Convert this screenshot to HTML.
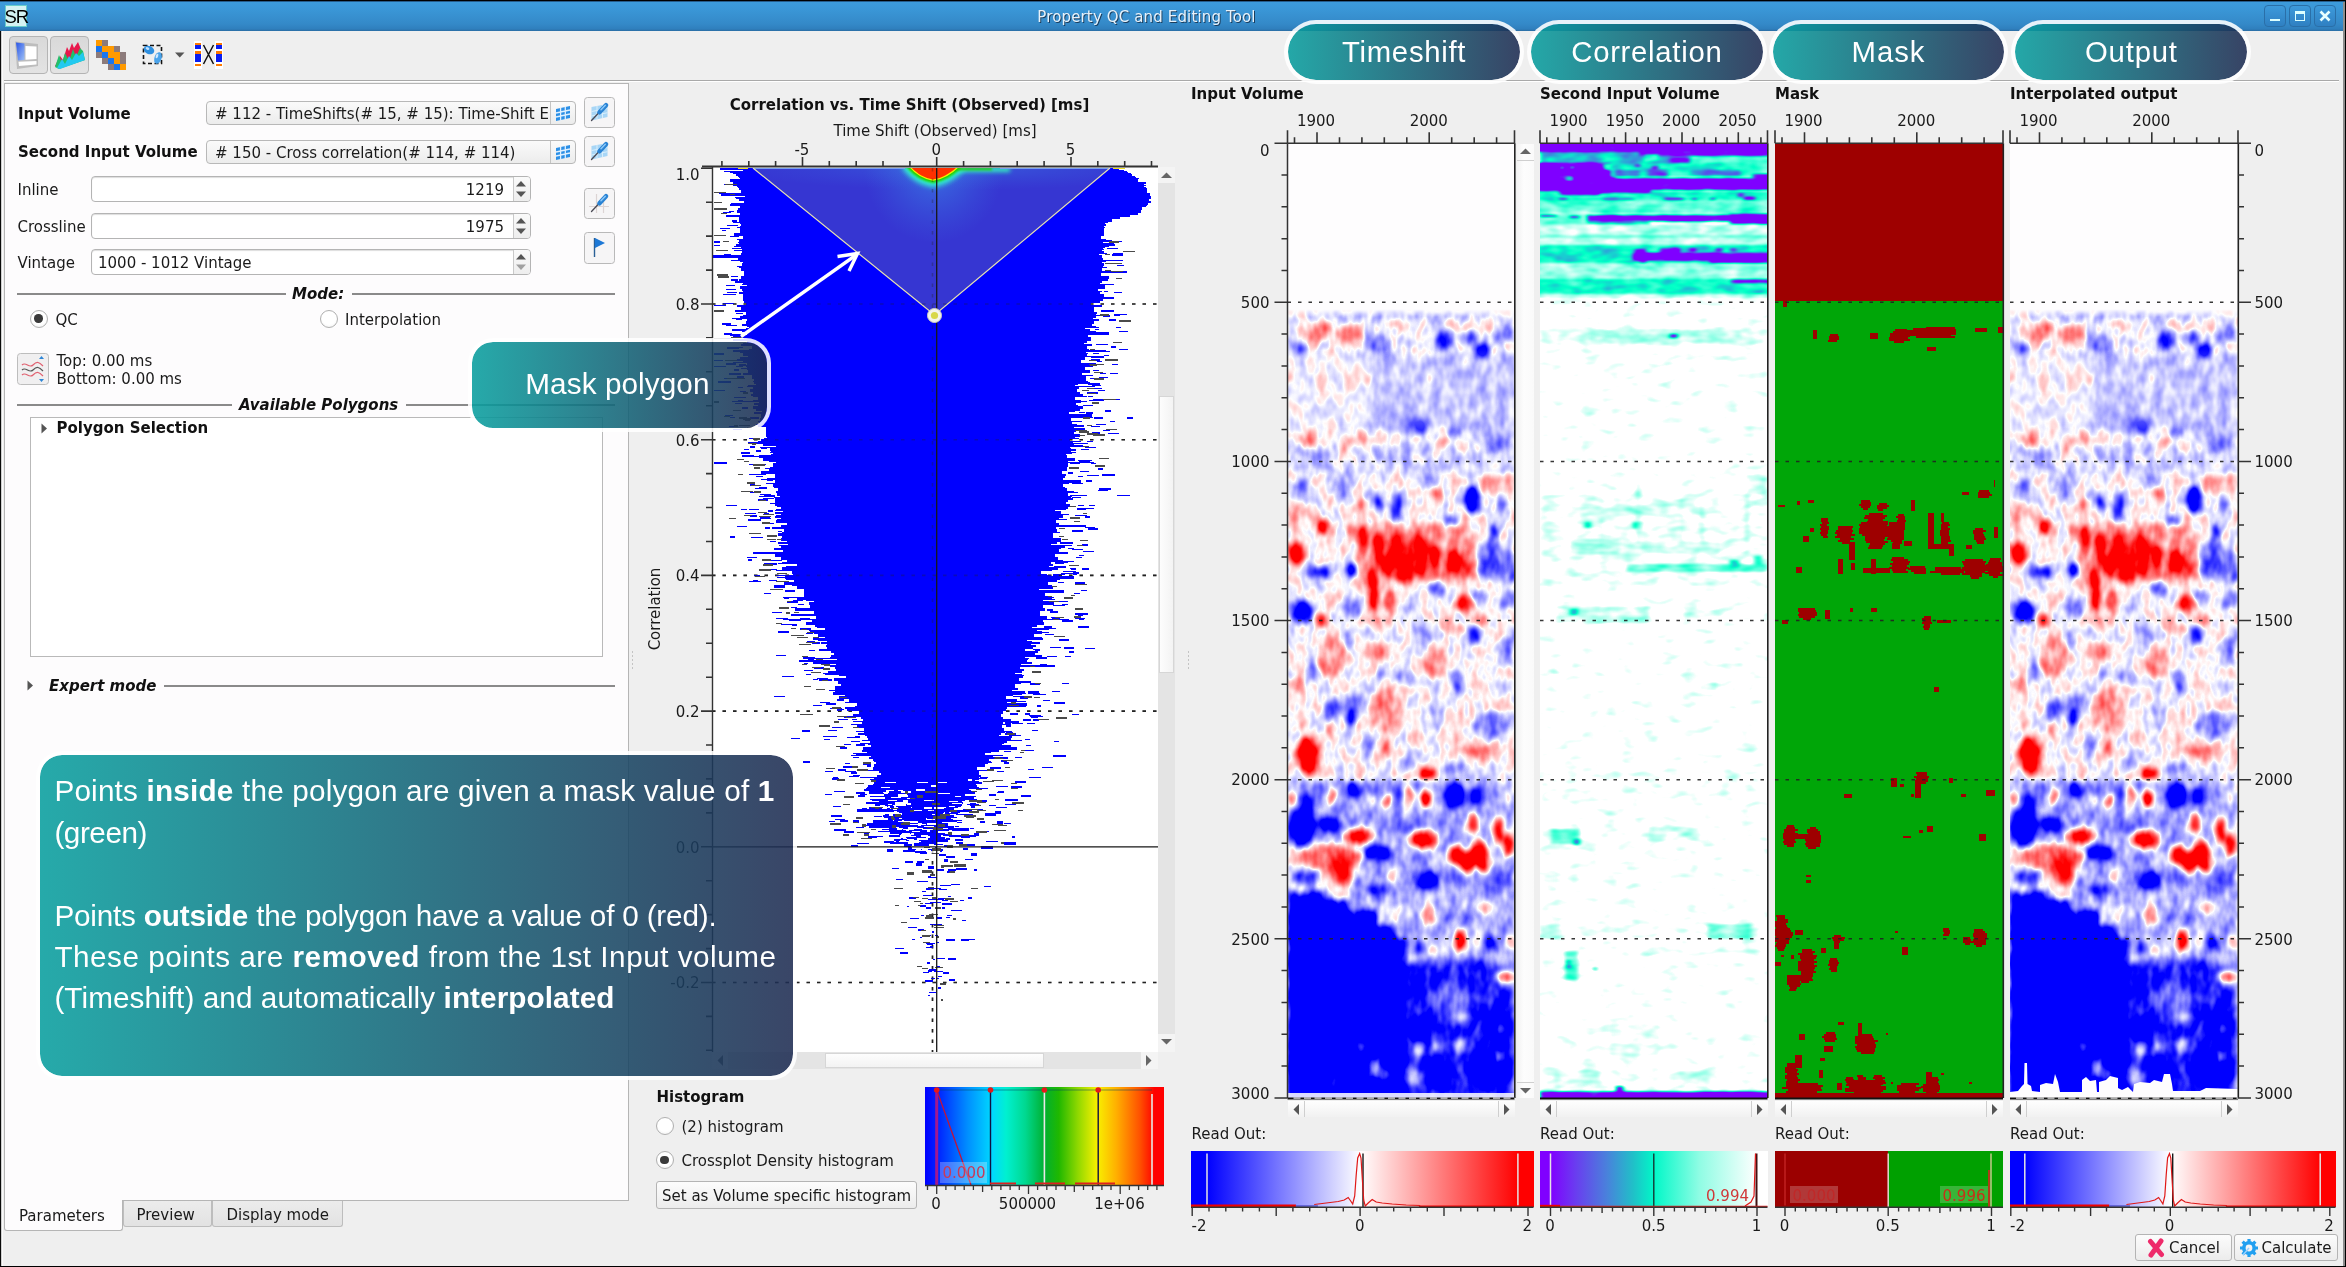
<!DOCTYPE html>
<html><head><meta charset="utf-8"><title>Property QC and Editing Tool</title>
<style>
html,body{margin:0;padding:0;background:#efefef;overflow:hidden}
#root{will-change:transform;position:relative;width:2346px;height:1267px;background:#efefef;overflow:hidden;font-family:'DejaVu Sans',sans-serif;font-size:15px}
</style></head><body><div id="root">
<div style="position:absolute;left:0px;top:0px;width:2346px;height:31px;background:linear-gradient(#000 0,#000 1px,#2d6fa8 1.6px,#3c9bdc 2.4px,#3a96d6 10px,#3489c8 24px,#2f7fbd 29px,#2a6da3 31px);"></div>
<div style="position:absolute;left:0px;top:31px;width:1.3px;height:1236px;background:#0a0a0a;"></div>
<div style="position:absolute;left:1.3px;top:31px;width:1px;height:1236px;background:#d0d0d0;"></div>
<div style="position:absolute;left:2.3px;top:31px;width:1px;height:1236px;background:#fafafa;"></div>
<div style="position:absolute;left:2343px;top:2px;width:2px;height:1265px;background:#8c8c8c;"></div>
<div style="position:absolute;left:2345px;top:0px;width:1px;height:1267px;background:#000;"></div>
<div style="position:absolute;left:0px;top:1265.6px;width:2346px;height:1.4px;background:#000;"></div>
<div style="position:absolute;left:5px;top:5px;width:22px;height:22px;background:#d4f2f2;border:1px solid #6cc;box-sizing:border-box;"></div>
<div style="position:absolute;top:3.99px;line-height:26px;font-size:18.5px;font-family:'Liberation Sans',sans-serif;color:#000;white-space:nowrap;left:16.3px;transform:translateX(-50%);letter-spacing:-1px;">SR</div>
<div style="position:absolute;top:7.11px;line-height:21px;font-size:15px;font-family:'DejaVu Sans',sans-serif;color:#e8f2fa;white-space:nowrap;left:1146.5px;transform:translateX(-50%);letter-spacing:.14px;text-shadow:1px 1px 0 #1c3d5c;">Property QC and Editing Tool</div>
<div style="position:absolute;left:2264px;top:5px;width:22px;height:22px;border:1px solid #2a6fa8;border-radius:4px;box-sizing:border-box;background:linear-gradient(#3d9adb,#2f80c2);"></div>
<div style="position:absolute;left:2289px;top:5px;width:22px;height:22px;border:1px solid #2a6fa8;border-radius:4px;box-sizing:border-box;background:linear-gradient(#3d9adb,#2f80c2);"></div>
<div style="position:absolute;left:2314px;top:5px;width:22px;height:22px;border:1px solid #2a6fa8;border-radius:4px;box-sizing:border-box;background:linear-gradient(#3d9adb,#2f80c2);"></div>
<div style="position:absolute;left:2270px;top:19px;width:10px;height:2px;background:#dff;"></div>
<div style="position:absolute;left:2295px;top:11px;width:10px;height:10px;border:1px solid #dff;border-top:3px solid #dff;box-sizing:border-box;"></div>
<svg style="position:absolute;left:2319px;top:10px" width="12" height="12"><path d="M1.5 1.5L10.5 10.5M10.5 1.5L1.5 10.5" stroke="#e8ffff" stroke-width="2.6"/></svg>
<div style="position:absolute;left:9px;top:36px;width:39px;height:38px;border:1px solid #b4b4b4;border-radius:4px;box-sizing:border-box;background:linear-gradient(#d9d9d9,#e3e3e3);"></div>
<div style="position:absolute;left:50px;top:36px;width:39px;height:38px;border:1px solid #b4b4b4;border-radius:4px;box-sizing:border-box;background:linear-gradient(#d9d9d9,#e3e3e3);"></div>
<svg style="position:absolute;left:14px;top:40px" width="30" height="30" viewBox="0 0 30 30">
<defs><linearGradient id="i1a" x1="0" y1="0" x2="1" y2="1"><stop offset="0" stop-color="#2a55e6"/><stop offset="1" stop-color="#9ec0f5"/></linearGradient></defs>
<path d="M1 1.5 L24 4 L24 26 L3 29 Z" fill="#bdbdbd"/>
<path d="M2 2.5 L10.5 3.5 L10.5 20 L4 20.5 Z" fill="url(#i1a)"/>
<path d="M11.5 6 L22.5 6.5 L22.5 19 L11.5 19.8 Z" fill="#fff"/>
<path d="M4.5 21.8 L22.5 21 L22.5 24.5 L5 26 Z" fill="#fff"/>
</svg>
<svg style="position:absolute;left:54px;top:39px" width="32" height="32" viewBox="0 0 32 32">
<path d="M1 27 L6 17 L9 21 L13 8 L15 12 L18 4 L20 9 L24 3 L26 8 L30 19 L30 21 L6 29 Z" fill="#e8174b"/>
<path d="M1 28 L5 16 L8 24 L11 14 L15 22 L19 10 L22 18 L26 9 L29 12 L31 21 L5 30 Z" fill="#22c06a"/>
<path d="M3 29 L8 20 L11 25 L15 17 L18 21 L22 14 L25 17 L29 13 L31 21 L6 30 Z" fill="#22c9f0"/>
</svg>
<svg style="position:absolute;left:96px;top:40px" width="31" height="30"><rect x="0" y="0" width="6" height="6" fill="#ff9a00"/><rect x="6" y="0" width="6" height="6" fill="#8c7b7b"/><rect x="0" y="6" width="6" height="6" fill="#1976f0"/><rect x="6" y="6" width="6" height="6" fill="#ff9a00"/><rect x="12" y="6" width="6" height="6" fill="#ff9a00"/><rect x="18" y="6" width="6" height="6" fill="#8c7b7b"/><rect x="0" y="12" width="6" height="6" fill="#8c7b7b"/><rect x="6" y="12" width="6" height="6" fill="#1976f0"/><rect x="12" y="12" width="6" height="6" fill="#ff9a00"/><rect x="18" y="12" width="6" height="6" fill="#ff9a00"/><rect x="24" y="12" width="6" height="6" fill="#8c7b7b"/><rect x="6" y="18" width="6" height="6" fill="#8c7b7b"/><rect x="12" y="18" width="6" height="6" fill="#1976f0"/><rect x="18" y="18" width="6" height="6" fill="#ff9a00"/><rect x="24" y="18" width="6" height="6" fill="#8c7b7b"/><rect x="12" y="24" width="6" height="6" fill="#8c7b7b"/><rect x="18" y="24" width="6" height="6" fill="#1976f0"/><rect x="24" y="24" width="6" height="6" fill="#ff9a00"/></svg>
<svg style="position:absolute;left:138px;top:39px" width="30" height="30" viewBox="0 0 30 30">
<rect x="5.5" y="6.5" width="18" height="18" fill="none" stroke="#111" stroke-width="1.6" stroke-dasharray="4 2.5"/>
<ellipse cx="11" cy="11" rx="5.5" ry="4" transform="rotate(25 11 11)" fill="#2e8fe0"/>
<ellipse cx="9.5" cy="9.5" rx="2" ry="1.3" transform="rotate(25 9.5 9.5)" fill="#bfe0ff"/>
<ellipse cx="20" cy="19" rx="3.6" ry="6" transform="rotate(18 20 19)" fill="#4aa3ea"/>
<ellipse cx="19" cy="17" rx="1.2" ry="2.4" transform="rotate(18 19 17)" fill="#cfe8ff"/>
</svg>
<svg style="position:absolute;left:175px;top:52px" width="10" height="6"><path d="M0 0.5H9.5L4.75 5.5Z" fill="#555"/></svg>
<svg style="position:absolute;left:193px;top:40px" width="32" height="30" viewBox="0 0 32 30">
<g>
<rect x="1" y="1" width="8" height="28" fill="#fff"/><rect x="22" y="1" width="8" height="28" fill="#fff"/>
<rect x="2" y="3" width="6" height="2" fill="#ff7a00"/><rect x="2" y="5" width="6" height="4" fill="#0a1df0"/>
<rect x="2" y="11" width="6" height="3" fill="#ff7a00"/><rect x="2" y="14" width="6" height="8" fill="#0a1df0"/>
<rect x="2" y="24" width="6" height="2" fill="#ff7a00"/>
<rect x="23" y="3" width="6" height="2" fill="#ff7a00"/><rect x="23" y="5" width="6" height="4" fill="#0a1df0"/>
<rect x="23" y="11" width="6" height="3" fill="#ff7a00"/><rect x="23" y="14" width="6" height="8" fill="#0a1df0"/>
<rect x="23" y="24" width="6" height="2" fill="#ff7a00"/>
<path d="M10.5 5 L20.5 24 M20.5 5 L10.5 24" stroke="#111" stroke-width="1.5" fill="none"/>
</g></svg>
<div style="position:absolute;left:4px;top:80px;width:2335px;height:1px;background:#a9a9a9;"></div>
<div style="position:absolute;left:4px;top:81px;width:2335px;height:1px;background:#fff;"></div>
<div style="position:absolute;left:4px;top:83.4px;width:625px;height:1117.3px;background:#fdfcfd;border:1px solid #b5b5b5;box-sizing:border-box;"></div>
<div style="position:absolute;top:103.61px;line-height:21px;font-size:15px;font-family:'DejaVu Sans',sans-serif;color:#111;white-space:nowrap;font-weight:bold;left:18px;">Input Volume</div>
<div style="position:absolute;top:142.11px;line-height:21px;font-size:15px;font-family:'DejaVu Sans',sans-serif;color:#111;white-space:nowrap;font-weight:bold;left:18px;">Second Input Volume</div>
<div style="position:absolute;left:206px;top:101px;width:370px;height:24px;border:1px solid #b8b8b8;border-radius:4px;box-sizing:border-box;background:linear-gradient(#fafafa,#ececec);"></div>
<div style="position:absolute;left:550px;top:102px;width:1px;height:22px;background:#c4c4c4;"></div>
<div style="position:absolute;left:215px;top:101px;width:333px;height:24px;overflow:hidden"><div style="position:absolute;top:2.61px;line-height:21px;font-size:15px;font-family:'DejaVu Sans',sans-serif;color:#1a1a1a;white-space:nowrap;left:0px;"># 112 - TimeShifts(# 15, # 15): Time-Shift E</div>
</div>
<svg style="position:absolute;left:554px;top:104px" width="18" height="18" viewBox="0 0 18 18"><path d="M2 5 L16 2 L16 14 L2 17 Z" fill="#2b8fe6"/><path d="M6.6 3.5V16.5M11.3 2.5V15.5M2 9 L16 6M2 13 L16 10" stroke="#dff0ff" stroke-width="1.3" fill="none"/></svg>
<div style="position:absolute;left:206px;top:140px;width:370px;height:24px;border:1px solid #b8b8b8;border-radius:4px;box-sizing:border-box;background:linear-gradient(#fafafa,#ececec);"></div>
<div style="position:absolute;left:550px;top:141px;width:1px;height:22px;background:#c4c4c4;"></div>
<div style="position:absolute;left:215px;top:140px;width:333px;height:24px;overflow:hidden"><div style="position:absolute;top:2.61px;line-height:21px;font-size:15px;font-family:'DejaVu Sans',sans-serif;color:#1a1a1a;white-space:nowrap;left:0px;"># 150 - Cross correlation(# 114, # 114)</div>
</div>
<svg style="position:absolute;left:554px;top:143px" width="18" height="18" viewBox="0 0 18 18"><path d="M2 5 L16 2 L16 14 L2 17 Z" fill="#2b8fe6"/><path d="M6.6 3.5V16.5M11.3 2.5V15.5M2 9 L16 6M2 13 L16 10" stroke="#dff0ff" stroke-width="1.3" fill="none"/></svg>
<svg style="position:absolute;left:584px;top:97px" width="31" height="31" viewBox="0 0 31 31"><rect x="0.5" y="0.5" width="30" height="30" rx="3" fill="#f6f5f6" stroke="#b9b9b9"/><path d="M7.5 10 L23.5 7 L23.5 20 L7.5 23.5 Z" fill="#8ecbf5" opacity=".75"/><path d="M13 9V22.3M18.5 8V21M7.5 14.5 L23.5 11.5M7.5 19 L23.5 15.7" stroke="#d8eefc" stroke-width="1" fill="none"/><path d="M7.5 23.5 L15.5 15" stroke="#4a4a55" stroke-width="1.3" stroke-linecap="round"/><path d="M15.5 15.2 L22 8.2" stroke="#2a83d4" stroke-width="4.6" stroke-linecap="round"/><path d="M17 12.8 L21.3 8.2" stroke="#8cc8f8" stroke-width="1.5" stroke-linecap="round"/></svg>
<svg style="position:absolute;left:584px;top:136px" width="31" height="31" viewBox="0 0 31 31"><rect x="0.5" y="0.5" width="30" height="30" rx="3" fill="#f6f5f6" stroke="#b9b9b9"/><path d="M7.5 10 L23.5 7 L23.5 20 L7.5 23.5 Z" fill="#8ecbf5" opacity=".75"/><path d="M13 9V22.3M18.5 8V21M7.5 14.5 L23.5 11.5M7.5 19 L23.5 15.7" stroke="#d8eefc" stroke-width="1" fill="none"/><path d="M7.5 23.5 L15.5 15" stroke="#4a4a55" stroke-width="1.3" stroke-linecap="round"/><path d="M15.5 15.2 L22 8.2" stroke="#2a83d4" stroke-width="4.6" stroke-linecap="round"/><path d="M17 12.8 L21.3 8.2" stroke="#8cc8f8" stroke-width="1.5" stroke-linecap="round"/></svg>
<svg style="position:absolute;left:584px;top:188px" width="31" height="31" viewBox="0 0 31 31"><rect x="0.5" y="0.5" width="30" height="30" rx="3" fill="#f6f5f6" stroke="#b9b9b9"/><path d="M5 18.5H25M12.5 6V25M19.5 11V25" stroke="#dcd4d4" stroke-width="1.2"/><path d="M7.5 23.5 L15.5 15" stroke="#4a4a55" stroke-width="1.3" stroke-linecap="round"/><path d="M15.5 15.2 L22 8.2" stroke="#2a83d4" stroke-width="4.6" stroke-linecap="round"/><path d="M17 12.8 L21.3 8.2" stroke="#8cc8f8" stroke-width="1.5" stroke-linecap="round"/></svg>
<svg style="position:absolute;left:584px;top:232px" width="31" height="32" viewBox="0 0 31 32">
<rect x="0.5" y="0.5" width="30" height="31" rx="3" fill="#f6f5f6" stroke="#b9b9b9"/>
<path d="M10.5 6V25" stroke="#2a5f96" stroke-width="1.4"/><path d="M11 6 L21 11 L11 16Z" fill="#1d78d6"/></svg>
<div style="position:absolute;top:179.61px;line-height:21px;font-size:15px;font-family:'DejaVu Sans',sans-serif;color:#1a1a1a;white-space:nowrap;left:17.5px;">Inline</div>
<div style="position:absolute;left:91px;top:176px;width:440px;height:26px;border:1px solid #b4b4b4;border-radius:4px;box-sizing:border-box;background:#fff;box-shadow:inset 0 1px 1px #ddd;"></div>
<div style="position:absolute;left:513px;top:177px;width:1px;height:24px;background:#c9c9c9;"></div>
<div style="position:absolute;left:514px;top:177px;width:16px;height:24px;background:linear-gradient(#fafafa,#eee);border-radius:0 3px 3px 0;"></div>
<svg style="position:absolute;left:512px;top:176px" width="18" height="26"><path d="M4 10.5 L9 5 L14 10.5Z" fill="#555"/><path d="M4 15.5 L9 21 L14 15.5Z" fill="#555"/></svg>
<div style="position:absolute;top:179.61px;line-height:21px;font-size:15px;font-family:'DejaVu Sans',sans-serif;color:#1a1a1a;white-space:nowrap;left:504px;transform:translateX(-100%);">1219</div>
<div style="position:absolute;top:216.61px;line-height:21px;font-size:15px;font-family:'DejaVu Sans',sans-serif;color:#1a1a1a;white-space:nowrap;left:17.5px;">Crossline</div>
<div style="position:absolute;left:91px;top:213px;width:440px;height:26px;border:1px solid #b4b4b4;border-radius:4px;box-sizing:border-box;background:#fff;box-shadow:inset 0 1px 1px #ddd;"></div>
<div style="position:absolute;left:513px;top:214px;width:1px;height:24px;background:#c9c9c9;"></div>
<div style="position:absolute;left:514px;top:214px;width:16px;height:24px;background:linear-gradient(#fafafa,#eee);border-radius:0 3px 3px 0;"></div>
<svg style="position:absolute;left:512px;top:213px" width="18" height="26"><path d="M4 10.5 L9 5 L14 10.5Z" fill="#555"/><path d="M4 15.5 L9 21 L14 15.5Z" fill="#555"/></svg>
<div style="position:absolute;top:216.61px;line-height:21px;font-size:15px;font-family:'DejaVu Sans',sans-serif;color:#1a1a1a;white-space:nowrap;left:504px;transform:translateX(-100%);">1975</div>
<div style="position:absolute;top:252.61px;line-height:21px;font-size:15px;font-family:'DejaVu Sans',sans-serif;color:#1a1a1a;white-space:nowrap;left:17.5px;">Vintage</div>
<div style="position:absolute;left:91px;top:249px;width:440px;height:26px;border:1px solid #b4b4b4;border-radius:4px;box-sizing:border-box;background:#fff;box-shadow:inset 0 1px 1px #ddd;"></div>
<div style="position:absolute;left:513px;top:250px;width:1px;height:24px;background:#c9c9c9;"></div>
<div style="position:absolute;left:514px;top:250px;width:16px;height:24px;background:linear-gradient(#fafafa,#eee);border-radius:0 3px 3px 0;"></div>
<svg style="position:absolute;left:512px;top:249px" width="18" height="26"><path d="M4 10.5 L9 5 L14 10.5Z" fill="#555"/><path d="M4 15.5 L9 21 L14 15.5Z" fill="#a0a0a0"/></svg>
<div style="position:absolute;top:252.61px;line-height:21px;font-size:15px;font-family:'DejaVu Sans',sans-serif;color:#1a1a1a;white-space:nowrap;left:98px;">1000 - 1012 Vintage</div>
<div style="position:absolute;left:17px;top:292.5px;width:269px;height:2px;background:#8a8a8a;"></div>
<div style="position:absolute;left:352px;top:292.5px;width:263px;height:2px;background:#8a8a8a;"></div>
<div style="position:absolute;top:283.61px;line-height:21px;font-size:15px;font-family:'DejaVu Sans',sans-serif;color:#111;white-space:nowrap;font-weight:bold;font-style:italic;left:292px;">Mode:</div>
<div style="position:absolute;left:29.5px;top:309.5px;width:18px;height:18px;border:1px solid #b0b0b0;border-radius:50%;box-sizing:border-box;background:radial-gradient(circle at 50% 40%,#fff 55%,#ececec);"></div>
<div style="position:absolute;left:34.3px;top:314.3px;width:8.4px;height:8.4px;border-radius:50%;background:#3a3a3a;"></div>
<div style="position:absolute;top:309.61px;line-height:21px;font-size:15px;font-family:'DejaVu Sans',sans-serif;color:#1a1a1a;white-space:nowrap;left:55.5px;">QC</div>
<div style="position:absolute;left:319.5px;top:309.5px;width:18px;height:18px;border:1px solid #b0b0b0;border-radius:50%;box-sizing:border-box;background:radial-gradient(circle at 50% 40%,#fff 55%,#ececec);"></div>
<div style="position:absolute;top:309.61px;line-height:21px;font-size:15px;font-family:'DejaVu Sans',sans-serif;color:#1a1a1a;white-space:nowrap;left:345px;">Interpolation</div>
<svg style="position:absolute;left:17px;top:353px" width="32" height="32" viewBox="0 0 32 32">
<rect x="0.5" y="0.5" width="31" height="31" rx="3" fill="#f0eff0" stroke="#bdbdbd"/>
<path d="M5 12 C9 8,12 16,16 12 S22 9,26 13" stroke="#e06070" stroke-width="1.2" fill="none"/>
<path d="M5 17 C9 13,12 21,16 17 S22 14,26 18" stroke="#555" stroke-width="1.2" fill="none"/>
<path d="M5 22 C9 18,12 26,16 22 S22 19,26 23" stroke="#e06070" stroke-width="1.2" fill="none"/>
<path d="M22 6 L24.5 3 L27 6Z M22 26 L24.5 29 L27 26Z" fill="#2e86d6"/></svg>
<div style="position:absolute;top:351.11px;line-height:21px;font-size:15px;font-family:'DejaVu Sans',sans-serif;color:#1a1a1a;white-space:nowrap;left:56.5px;">Top: 0.00 ms</div>
<div style="position:absolute;top:368.61px;line-height:21px;font-size:15px;font-family:'DejaVu Sans',sans-serif;color:#1a1a1a;white-space:nowrap;left:56.5px;">Bottom: 0.00 ms</div>
<div style="position:absolute;left:17px;top:403.5px;width:215px;height:2px;background:#8a8a8a;"></div>
<div style="position:absolute;left:406px;top:403.5px;width:209px;height:2px;background:#8a8a8a;"></div>
<div style="position:absolute;top:395.11px;line-height:21px;font-size:15px;font-family:'DejaVu Sans',sans-serif;color:#111;white-space:nowrap;font-weight:bold;font-style:italic;left:239px;">Available Polygons</div>
<div style="position:absolute;left:30px;top:417px;width:573px;height:240px;border:1px solid #b9b9b9;box-sizing:border-box;background:#fff;"></div>
<svg style="position:absolute;left:40.5px;top:422.5px" width="7" height="11"><path d="M0.5 0.5 L6 5.5 L0.5 10.5Z" fill="#555"/></svg>
<div style="position:absolute;top:418.11px;line-height:21px;font-size:15px;font-family:'DejaVu Sans',sans-serif;color:#111;white-space:nowrap;font-weight:bold;left:56.5px;">Polygon Selection</div>
<svg style="position:absolute;left:27px;top:680px" width="7" height="11"><path d="M0.5 0.5 L6 5.5 L0.5 10.5Z" fill="#555"/></svg>
<div style="position:absolute;top:676.11px;line-height:21px;font-size:15px;font-family:'DejaVu Sans',sans-serif;color:#111;white-space:nowrap;font-weight:bold;font-style:italic;left:49px;">Expert mode</div>
<div style="position:absolute;left:164px;top:684.5px;width:451px;height:2px;background:#8a8a8a;"></div>
<div style="position:absolute;left:631.5px;top:651px;width:1.5px;height:1.5px;background:#c4c4c4;"></div>
<div style="position:absolute;left:1187.5px;top:651px;width:1.5px;height:1.5px;background:#c4c4c4;"></div>
<div style="position:absolute;left:631.5px;top:655px;width:1.5px;height:1.5px;background:#c4c4c4;"></div>
<div style="position:absolute;left:1187.5px;top:655px;width:1.5px;height:1.5px;background:#c4c4c4;"></div>
<div style="position:absolute;left:631.5px;top:659px;width:1.5px;height:1.5px;background:#c4c4c4;"></div>
<div style="position:absolute;left:1187.5px;top:659px;width:1.5px;height:1.5px;background:#c4c4c4;"></div>
<div style="position:absolute;left:631.5px;top:663px;width:1.5px;height:1.5px;background:#c4c4c4;"></div>
<div style="position:absolute;left:1187.5px;top:663px;width:1.5px;height:1.5px;background:#c4c4c4;"></div>
<div style="position:absolute;left:631.5px;top:667px;width:1.5px;height:1.5px;background:#c4c4c4;"></div>
<div style="position:absolute;left:1187.5px;top:667px;width:1.5px;height:1.5px;background:#c4c4c4;"></div>
<div style="position:absolute;left:4px;top:1199.6px;width:119px;height:31.4px;background:#fdfcfd;border:1px solid #b5b5b5;border-top:none;box-sizing:border-box;border-radius:0 0 3px 3px;"></div>
<div style="position:absolute;left:123px;top:1200.6px;width:89px;height:26.6px;background:linear-gradient(#ececec,#e2e2e2);border:1px solid #bdbdbd;border-top:none;box-sizing:border-box;border-radius:0 0 3px 3px;"></div>
<div style="position:absolute;left:212px;top:1200.6px;width:131px;height:26.6px;background:linear-gradient(#ececec,#e2e2e2);border:1px solid #bdbdbd;border-top:none;box-sizing:border-box;border-radius:0 0 3px 3px;"></div>
<div style="position:absolute;top:1205.61px;line-height:21px;font-size:15px;font-family:'DejaVu Sans',sans-serif;color:#1a1a1a;white-space:nowrap;left:19px;">Parameters</div>
<div style="position:absolute;top:1204.61px;line-height:21px;font-size:15px;font-family:'DejaVu Sans',sans-serif;color:#1a1a1a;white-space:nowrap;left:136.5px;">Preview</div>
<div style="position:absolute;top:1204.61px;line-height:21px;font-size:15px;font-family:'DejaVu Sans',sans-serif;color:#1a1a1a;white-space:nowrap;left:226.5px;">Display mode</div>
<svg style="position:absolute;left:0;top:0" width="2346" height="1267" viewBox="0 0 2346 1267">
<defs>
<radialGradient id="hot" cx="0.5" cy="0.5" r="0.5">
<stop offset="0" stop-color="#ff2a00"/><stop offset="0.38" stop-color="#ff3000"/><stop offset="0.46" stop-color="#ffe600"/><stop offset="0.54" stop-color="#30e000"/><stop offset="0.64" stop-color="#00e8c8"/><stop offset="0.80" stop-color="#2a7ae0" stop-opacity=".85"/><stop offset="1" stop-color="#3a46d6" stop-opacity="0"/>
</radialGradient>
<radialGradient id="glow" cx="0.5" cy="0.5" r="0.5">
<stop offset="0" stop-color="#3a8ae8" stop-opacity=".9"/><stop offset="1" stop-color="#3a6ae0" stop-opacity="0"/>
</radialGradient>
<filter id="b3" filterUnits="userSpaceOnUse" x="700" y="140" width="480" height="200"><feGaussianBlur stdDeviation="2.6"/></filter>
<filter id="b2" filterUnits="userSpaceOnUse" x="700" y="140" width="480" height="200"><feGaussianBlur stdDeviation="2"/></filter>
<filter id="b1" filterUnits="userSpaceOnUse" x="700" y="140" width="480" height="200"><feGaussianBlur stdDeviation="0.9"/></filter>
<filter id="b05" filterUnits="userSpaceOnUse" x="700" y="140" width="480" height="200"><feGaussianBlur stdDeviation="0.5"/></filter>
<clipPath id="cpclip"><rect x="713" y="168" width="445" height="884"/></clipPath>
<clipPath id="triclip"><path d="M753 168 L1110 168 L934.5 315 Z"/></clipPath>
</defs>
<rect x="712" y="167" width="446" height="885" fill="#fff"/>
<g clip-path="url(#cpclip)">
<path d="M712 304.0H1158" stroke="#222" stroke-width="1.6" stroke-dasharray="3.5 7" opacity="1"/>
<path d="M712 439.7H1158" stroke="#222" stroke-width="1.6" stroke-dasharray="3.5 7" opacity="1"/>
<path d="M712 575.4H1158" stroke="#222" stroke-width="1.6" stroke-dasharray="3.5 7" opacity="1"/>
<path d="M712 711.1H1158" stroke="#222" stroke-width="1.6" stroke-dasharray="3.5 7" opacity="1"/>
<path d="M712 982.5H1158" stroke="#222" stroke-width="1.6" stroke-dasharray="3.5 7" opacity="1"/>
<path d="M932.5 168V1052" stroke="#222" stroke-width="1.6" stroke-dasharray="3.5 7" opacity="1"/>
<path d="M720 168L720 170L743 170L743 171L724 171L724 172L730 172L730 173L733 173L733 174L736 174L736 176L738 176L738 177L739 177L739 178L740 178L740 179L730 179L730 182L733 182L733 184L737 184L737 185L733 185L733 186L737 186L737 187L738 187L738 188L739 188L739 190L741 190L741 193L721 193L721 196L745 196L745 197L735 197L735 198L736 198L736 199L739 199L739 201L744 201L744 203L731 203L731 205L734 205L734 206L740 206L740 207L740 207L740 208L738 208L738 210L737 210L737 213L740 213L740 215L726 215L726 217L739 217L739 219L739 219L739 222L733 222L733 223L740 223L740 224L741 224L741 226L740 226L740 227L737 227L737 228L740 228L740 230L740 230L740 233L734 233L734 236L743 236L743 239L737 239L737 240L739 240L739 242L738 242L738 243L739 243L739 244L736 244L736 246L734 246L734 247L741 247L741 248L736 248L736 249L742 249L742 250L734 250L734 251L742 251L742 253L741 253L741 254L741 254L741 255L713 255L713 258L738 258L738 260L731 260L731 261L740 261L740 262L743 262L743 263L742 263L742 266L737 266L737 267L739 267L739 268L741 268L741 271L744 271L744 273L744 273L744 276L741 276L741 279L739 279L739 281L735 281L735 283L743 283L743 284L742 284L742 285L747 285L747 286L740 286L740 289L742 289L742 291L743 291L743 292L739 292L739 294L743 294L743 297L743 297L743 299L743 299L743 301L744 301L744 303L746 303L746 305L737 305L737 307L741 307L741 310L735 310L735 312L746 312L746 314L746 314L746 315L743 315L743 316L740 316L740 318L732 318L732 319L747 319L747 321L746 321L746 324L742 324L742 326L747 326L747 327L749 327L749 328L746 328L746 329L732 329L732 331L742 331L742 332L747 332L747 335L740 335L740 337L744 337L744 339L733 339L733 341L747 341L747 343L743 343L743 344L741 344L741 346L752 346L752 349L749 349L749 350L740 350L740 352L740 352L740 353L743 353L743 354L743 354L743 356L748 356L748 357L740 357L740 360L743 360L743 363L747 363L747 365L746 365L746 367L747 367L747 370L748 370L748 373L743 373L743 375L752 375L752 376L752 376L752 379L754 379L754 381L753 381L753 382L754 382L754 384L756 384L756 385L748 385L748 386L747 386L747 387L753 387L753 389L750 389L750 392L753 392L753 394L751 394L751 396L753 396L753 397L758 397L758 400L753 400L753 401L732 401L732 402L759 402L759 403L754 403L754 405L758 405L758 406L753 406L753 409L756 409L756 411L762 411L762 412L754 412L754 414L761 414L761 417L761 417L761 418L760 418L760 421L758 421L758 422L759 422L759 424L756 424L756 425L758 425L758 427L766 427L766 429L766 429L766 432L766 432L766 434L766 434L766 437L767 437L767 438L764 438L764 439L761 439L761 441L758 441L758 442L748 442L748 444L763 444L763 446L776 446L776 447L760 447L760 448L770 448L770 449L770 449L770 451L771 451L771 452L770 452L770 453L773 453L773 454L771 454L771 455L759 455L759 458L763 458L763 461L769 461L769 462L776 462L776 463L773 463L773 466L773 466L773 467L770 467L770 469L769 469L769 471L761 471L761 474L775 474L775 476L775 476L775 478L767 478L767 480L775 480L775 483L766 483L766 484L773 484L773 486L773 486L773 487L774 487L774 488L778 488L778 491L776 491L776 493L777 493L777 496L780 496L780 497L774 497L774 498L775 498L775 500L775 500L775 502L775 502L775 504L775 504L775 506L777 506L777 507L781 507L781 509L776 509L776 510L775 510L775 511L783 511L783 512L775 512L775 514L781 514L781 515L776 515L776 516L775 516L775 518L781 518L781 519L777 519L777 520L776 520L776 523L787 523L787 525L781 525L781 527L772 527L772 529L784 529L784 532L782 532L782 533L778 533L778 536L782 536L782 538L781 538L781 541L787 541L787 542L778 542L778 544L788 544L788 545L779 545L779 546L781 546L781 548L775 548L775 550L783 550L783 552L753 552L753 554L775 554L775 557L781 557L781 560L787 560L787 561L787 561L787 562L782 562L782 564L797 564L797 566L786 566L786 567L782 567L782 570L776 570L776 571L792 571L792 574L793 574L793 575L776 575L776 576L785 576L785 579L786 579L786 580L794 580L794 582L784 582L784 585L792 585L792 586L797 586L797 589L804 589L804 590L804 590L804 593L804 593L804 596L804 596L804 597L783 597L783 598L797 598L797 600L806 600L806 601L814 601L814 602L809 602L809 605L810 605L810 608L795 608L795 611L814 611L814 614L791 614L791 616L816 616L816 619L783 619L783 620L812 620L812 622L806 622L806 625L815 625L815 627L817 627L817 628L825 628L825 630L809 630L809 631L814 631L814 634L818 634L818 637L825 637L825 638L813 638L813 640L818 640L818 641L827 641L827 642L821 642L821 644L827 644L827 645L826 645L826 647L827 647L827 649L819 649L819 651L831 651L831 653L834 653L834 655L831 655L831 657L830 657L830 658L809 658L809 659L837 659L837 660L799 660L799 662L813 662L813 664L836 664L836 665L830 665L830 667L835 667L835 669L836 669L836 671L828 671L828 673L823 673L823 674L825 674L825 675L839 675L839 676L846 676L846 678L834 678L834 681L838 681L838 683L838 683L838 684L841 684L841 686L835 686L835 688L835 688L835 690L829 690L829 691L835 691L835 692L833 692L833 695L845 695L845 696L839 696L839 699L849 699L849 701L849 701L849 702L845 702L845 703L857 703L857 706L855 706L855 707L845 707L845 709L847 709L847 711L859 711L859 714L853 714L853 717L861 717L861 719L863 719L863 721L853 721L853 722L862 722L862 724L851 724L851 725L857 725L857 728L864 728L864 731L856 731L856 732L864 732L864 733L858 733L858 735L865 735L865 736L867 736L867 738L868 738L868 740L862 740L862 741L870 741L870 743L860 743L860 744L868 744L868 745L871 745L871 747L863 747L863 750L862 750L862 752L867 752L867 753L856 753L856 755L851 755L851 756L871 756L871 757L869 757L869 759L873 759L873 761L874 761L874 762L876 762L876 763L876 763L876 764L874 764L874 767L873 767L873 770L862 770L862 771L879 771L879 773L881 773L881 775L877 775L877 777L860 777L860 778L874 778L874 779L870 779L870 780L876 780L876 782L874 782L874 784L873 784L873 785L868 785L868 787L867 787L867 789L864 789L864 791L869 791L869 794L884 794L884 796L870 796L870 797L885 797L885 799L870 799L870 800L872 800L872 801L879 801L879 802L866 802L866 804L875 804L875 805L885 805L885 806L887 806L887 809L857 809L857 812L892 812L892 814L885 814L885 815L883 815L883 817L884 817L884 818L888 818L888 820L873 820L873 823L867 823L867 826L869 826L869 828L889 828L889 831L878 831L878 832L890 832L890 834L899 834L899 835L889 835L889 837L902 837L902 838L901 838L901 839L897 839L897 840L906 840L906 841L909 841L909 842L890 842L890 844L904 844L904 847L908 847L908 849L908 849L908 852L942 852L942 849L939 849L939 847L948 847L948 844L937 844L937 842L955 842L955 841L950 841L950 840L950 840L950 839L953 839L953 838L949 838L949 837L976 837L976 835L945 835L945 834L945 834L945 832L947 832L947 831L969 831L969 828L959 828L959 826L948 826L948 823L962 823L962 820L953 820L953 818L957 818L957 817L954 817L954 815L973 815L973 814L959 814L959 812L972 812L972 809L958 809L958 806L962 806L962 805L962 805L962 804L963 804L963 802L979 802L979 801L965 801L965 800L976 800L976 799L974 799L974 797L976 797L976 796L965 796L965 794L975 794L975 791L971 791L971 789L979 789L979 787L977 787L977 785L976 785L976 784L982 784L982 782L979 782L979 780L979 780L979 779L987 779L987 778L979 778L979 777L981 777L981 775L979 775L979 773L979 773L979 771L989 771L989 770L977 770L977 767L985 767L985 764L988 764L988 763L992 763L992 762L991 762L991 761L989 761L989 759L1008 759L1008 757L993 757L993 756L1003 756L1003 755L985 755L985 753L991 753L991 752L999 752L999 750L1017 750L1017 747L1011 747L1011 745L1002 745L1002 744L1004 744L1004 743L1007 743L1007 741L1022 741L1022 740L1010 740L1010 738L1012 738L1012 736L999 736L999 735L1001 735L1001 733L1005 733L1005 732L1012 732L1012 731L1004 731L1004 728L1002 728L1002 725L1009 725L1009 724L1003 724L1003 722L1012 722L1012 721L1011 721L1011 719L1003 719L1003 717L1001 717L1001 714L1003 714L1003 711L1006 711L1006 709L1007 709L1007 707L1026 707L1026 706L1027 706L1027 703L1007 703L1007 702L1026 702L1026 701L1017 701L1017 699L1006 699L1006 696L1013 696L1013 695L1022 695L1022 692L1019 692L1019 691L1012 691L1012 690L1018 690L1018 688L1015 688L1015 686L1015 686L1015 684L1021 684L1021 683L1031 683L1031 681L1019 681L1019 678L1023 678L1023 676L1024 676L1024 675L1022 675L1022 674L1015 674L1015 673L1022 673L1022 671L1024 671L1024 669L1020 669L1020 667L1055 667L1055 665L1021 665L1021 664L1032 664L1032 662L1027 662L1027 660L1028 660L1028 659L1029 659L1029 658L1025 658L1025 657L1042 657L1042 655L1035 655L1035 653L1038 653L1038 651L1025 651L1025 649L1033 649L1033 647L1036 647L1036 645L1031 645L1031 644L1040 644L1040 642L1032 642L1032 641L1027 641L1027 640L1043 640L1043 638L1042 638L1042 637L1034 637L1034 634L1042 634L1042 631L1037 631L1037 630L1049 630L1049 628L1032 628L1032 627L1037 627L1037 625L1044 625L1044 622L1043 622L1043 620L1069 620L1069 619L1047 619L1047 616L1040 616L1040 614L1040 614L1040 611L1045 611L1045 608L1043 608L1043 605L1054 605L1054 602L1068 602L1068 601L1043 601L1043 600L1052 600L1052 598L1054 598L1054 597L1048 597L1048 596L1045 596L1045 593L1064 593L1064 590L1039 590L1039 589L1053 589L1053 586L1052 586L1052 585L1048 585L1048 582L1057 582L1057 580L1060 580L1060 579L1074 579L1074 576L1051 576L1051 575L1047 575L1047 574L1041 574L1041 571L1052 571L1052 570L1058 570L1058 567L1049 567L1049 566L1053 566L1053 564L1051 564L1051 562L1074 562L1074 561L1063 561L1063 560L1058 560L1058 557L1055 557L1055 554L1068 554L1068 552L1059 552L1059 550L1059 550L1059 548L1065 548L1065 546L1072 546L1072 545L1051 545L1051 544L1057 544L1057 542L1061 542L1061 541L1061 541L1061 538L1053 538L1053 536L1053 536L1053 533L1060 533L1060 532L1057 532L1057 529L1056 529L1056 527L1086 527L1086 525L1059 525L1059 523L1056 523L1056 520L1067 520L1067 519L1059 519L1059 518L1063 518L1063 516L1063 516L1063 515L1069 515L1069 514L1061 514L1061 512L1061 512L1061 511L1055 511L1055 510L1066 510L1066 509L1068 509L1068 507L1070 507L1070 506L1070 506L1070 504L1066 504L1066 502L1068 502L1068 500L1073 500L1073 498L1071 498L1071 497L1072 497L1072 496L1068 496L1068 493L1068 493L1068 491L1067 491L1067 488L1065 488L1065 487L1063 487L1063 486L1063 486L1063 484L1069 484L1069 483L1081 483L1081 480L1063 480L1063 478L1065 478L1065 476L1066 476L1066 474L1062 474L1062 471L1067 471L1067 469L1067 469L1067 467L1068 467L1068 466L1068 466L1068 463L1094 463L1094 462L1068 462L1068 461L1075 461L1075 458L1067 458L1067 455L1066 455L1066 454L1072 454L1072 453L1076 453L1076 452L1071 452L1071 451L1076 451L1076 449L1071 449L1071 448L1070 448L1070 447L1086 447L1086 446L1074 446L1074 444L1073 444L1073 442L1081 442L1081 441L1070 441L1070 439L1079 439L1079 438L1075 438L1075 437L1080 437L1080 434L1074 434L1074 432L1076 432L1076 429L1074 429L1074 427L1084 427L1084 425L1077 425L1077 424L1072 424L1072 422L1082 422L1082 421L1071 421L1071 418L1087 418L1087 417L1092 417L1092 414L1069 414L1069 412L1075 412L1075 411L1080 411L1080 409L1083 409L1083 406L1078 406L1078 405L1076 405L1076 403L1081 403L1081 402L1087 402L1087 401L1081 401L1081 400L1075 400L1075 397L1083 397L1083 396L1083 396L1083 394L1080 394L1080 392L1077 392L1077 389L1079 389L1079 387L1095 387L1095 386L1075 386L1075 385L1078 385L1078 384L1090 384L1090 382L1088 382L1088 381L1086 381L1086 379L1086 379L1086 376L1093 376L1093 375L1082 375L1082 373L1090 373L1090 370L1085 370L1085 367L1093 367L1093 365L1096 365L1096 363L1081 363L1081 360L1085 360L1085 357L1103 357L1103 356L1087 356L1087 354L1088 354L1088 353L1086 353L1086 352L1106 352L1106 350L1089 350L1089 349L1087 349L1087 346L1092 346L1092 344L1084 344L1084 343L1087 343L1087 341L1091 341L1091 339L1091 339L1091 337L1088 337L1088 335L1109 335L1109 332L1096 332L1096 331L1090 331L1090 329L1085 329L1085 328L1099 328L1099 327L1096 327L1096 326L1092 326L1092 324L1094 324L1094 321L1099 321L1099 319L1093 319L1093 318L1096 318L1096 316L1101 316L1101 315L1096 315L1096 314L1097 314L1097 312L1094 312L1094 310L1094 310L1094 307L1102 307L1102 305L1091 305L1091 303L1100 303L1100 301L1103 301L1103 299L1114 299L1114 297L1104 297L1104 294L1100 294L1100 292L1102 292L1102 291L1098 291L1098 289L1105 289L1105 286L1105 286L1105 285L1114 285L1114 284L1100 284L1100 283L1102 283L1102 281L1108 281L1108 279L1109 279L1109 276L1101 276L1101 273L1127 273L1127 271L1102 271L1102 268L1107 268L1107 267L1103 267L1103 266L1104 266L1104 263L1102 263L1102 262L1106 262L1106 261L1123 261L1123 260L1103 260L1103 258L1102 258L1102 255L1099 255L1099 254L1107 254L1107 253L1104 253L1104 251L1102 251L1102 250L1104 250L1104 249L1103 249L1103 248L1105 248L1105 247L1109 247L1109 246L1115 246L1115 244L1107 244L1107 243L1103 243L1103 242L1112 242L1112 240L1106 240L1106 239L1101 239L1101 236L1104 236L1104 233L1104 233L1104 230L1104 230L1104 228L1105 228L1105 227L1104 227L1104 226L1106 226L1106 224L1105 224L1105 223L1108 223L1108 222L1112 222L1112 219L1120 219L1120 217L1130 217L1130 215L1138 215L1138 213L1141 213L1141 210L1142 210L1142 208L1142 208L1142 207L1146 207L1146 206L1147 206L1147 205L1148 205L1148 203L1151 203L1151 201L1149 201L1149 199L1151 199L1151 198L1151 198L1151 197L1151 197L1151 196L1150 196L1150 193L1147 193L1147 190L1147 190L1147 188L1146 188L1146 187L1144 187L1144 186L1146 186L1146 185L1144 185L1144 184L1146 184L1146 182L1138 182L1138 179L1139 179L1139 178L1136 178L1136 177L1135 177L1135 176L1132 176L1132 174L1131 174L1131 173L1128 173L1128 172L1127 172L1127 171L1124 171L1124 170L1119 170L1119 168Z" fill="#0000ff" shape-rendering="crispEdges"/>
<path d="M908 824h11v1h-11zM908 843h10v1h-10zM905 834h7v1h-7zM947 837h5v2h-5zM912 810h10v1h-10zM928 810h4v1h-4zM946 837h11v1h-11zM936 829h7v1h-7zM918 824h3v2h-3zM936 845h8v1h-8zM915 850h10v1h-10zM922 849h6v1h-6zM906 829h8v1h-8zM968 779h4v2h-4zM893 819h4v2h-4zM898 790h5v1h-5zM942 847h4v1h-4zM936 848h7v1h-7zM893 809h4v1h-4zM921 835h7v2h-7zM929 844h5v2h-5zM943 844h12v1h-12zM927 803h8v1h-8zM922 848h7v1h-7zM904 829h4v1h-4zM929 846h6v2h-6zM898 795h10v2h-10zM906 830h3v1h-3zM897 828h6v1h-6zM935 807h9v2h-9zM914 847h10v2h-10zM942 822h5v1h-5zM915 852h6v1h-6zM902 837h4v1h-4zM934 807h4v2h-4zM920 846h12v1h-12zM922 829h12v1h-12zM963 801h11v1h-11zM926 826h8v1h-8zM904 795h4v1h-4zM904 798h9v1h-9zM924 800h10v1h-10zM957 813h9v1h-9zM891 816h9v2h-9zM917 782h11v1h-11zM899 818h3v1h-3zM944 812h8v1h-8zM919 827h6v1h-6zM926 836h8v2h-8zM949 801h9v1h-9zM886 807h4v1h-4zM898 820h6v2h-6zM888 800h9v1h-9zM892 813h9v1h-9zM975 780h7v1h-7zM883 792h9v1h-9zM895 827h4v1h-4zM901 807h11v1h-11zM948 834h10v1h-10zM947 821h11v1h-11zM909 841h12v1h-12zM894 816h6v1h-6zM881 787h9v1h-9zM908 827h10v2h-10zM947 812h7v1h-7zM918 827h5v2h-5zM903 835h8v1h-8zM947 833h10v1h-10zM933 852h7v1h-7zM947 822h10v1h-10zM935 851h5v1h-5zM943 813h3v1h-3zM907 839h6v1h-6zM901 791h10v2h-10zM895 804h11v2h-11zM911 833h3v2h-3zM902 833h8v2h-8zM938 807h8v1h-8zM954 821h8v1h-8zM889 812h10v1h-10zM955 796h6v1h-6zM891 797h11v1h-11zM951 826h4v1h-4zM927 830h3v2h-3zM929 851h8v2h-8zM916 849h5v1h-5zM934 845h4v2h-4zM900 835h9v2h-9zM941 840h12v1h-12zM893 805h12v1h-12zM941 835h8v2h-8zM912 831h8v1h-8zM926 850h11v2h-11zM944 843h12v1h-12zM924 807h8v2h-8zM938 782h9v1h-9zM946 814h10v1h-10zM903 838h4v1h-4zM918 823h4v2h-4zM916 850h11v1h-11zM927 848h8v1h-8zM927 823h11v2h-11zM930 845h8v1h-8zM888 804h4v1h-4zM887 808h12v1h-12zM938 846h6v2h-6zM909 836h7v1h-7zM926 818h9v2h-9zM929 810h5v1h-5zM958 806h6v1h-6zM922 852h7v2h-7zM951 818h12v1h-12zM939 828h9v1h-9zM931 785h5v2h-5zM898 821h11v1h-11zM926 819h8v1h-8zM911 846h12v1h-12zM953 822h4v2h-4zM907 803h4v2h-4zM924 826h10v1h-10zM896 829h6v1h-6zM926 826h6v1h-6zM951 825h9v1h-9zM948 823h10v1h-10zM908 843h7v1h-7zM936 847h7v1h-7zM886 790h8v2h-8zM932 814h3v1h-3zM903 829h8v1h-8zM949 806h6v1h-6zM890 807h11v1h-11zM945 840h10v2h-10zM950 827h10v1h-10zM945 837h12v2h-12zM915 852h11v1h-11zM885 782h11v1h-11zM943 844h6v1h-6zM901 834h11v1h-11zM898 794h9v2h-9zM908 842h5v1h-5zM888 806h8v1h-8zM905 835h5v2h-5zM895 802h10v2h-10zM969 789h11v1h-11zM909 821h9v2h-9zM938 831h10v2h-10zM903 800h5v2h-5zM962 801h7v1h-7zM912 847h12v2h-12zM899 814h7v1h-7zM944 842h6v1h-6zM909 840h10v1h-10zM915 850h6v1h-6zM911 844h10v2h-10zM954 808h9v2h-9zM949 830h3v1h-3zM897 802h11v2h-11zM911 842h8v2h-8zM903 803h5v1h-5zM889 814h4v2h-4zM884 792h4v2h-4zM906 824h8v1h-8zM952 803h10v1h-10zM911 839h3v1h-3zM938 850h9v1h-9zM894 811h3v1h-3zM905 813h10v1h-10zM922 824h4v1h-4zM938 793h12v1h-12zM917 838h11v2h-11zM916 847h4v1h-4zM895 813h11v2h-11zM941 839h4v2h-4zM916 789h9v2h-9zM933 850h9v1h-9z" fill="#fff" shape-rendering="crispEdges"/>
<path d="M734 351h9v1h-9zM839 694h7v1h-7zM730 334h11v2h-11zM840 747h7v2h-7zM1093 399h11v2h-11zM1036 657h11v2h-11zM1086 412h7v2h-7zM853 757h6v1h-6zM1005 722h6v2h-6zM798 604h6v1h-6zM1085 447h11v1h-11zM1094 417h9v2h-9zM771 560h11v1h-11zM764 495h11v2h-11zM1097 361h5v1h-5zM749 581h12v1h-12zM996 786h12v1h-12zM1045 627h5v2h-5zM809 650h6v1h-6zM1084 460h6v2h-6zM1117 495h13v1h-13zM1112 364h6v1h-6zM1053 575h6v1h-6zM1033 694h13v1h-13zM1090 378h10v1h-10zM1053 605h12v1h-12zM745 513h11v1h-11zM738 387h5v1h-5zM765 527h5v2h-5zM986 841h12v1h-12zM736 319h6v1h-6zM1068 548h6v1h-6zM1075 613h13v2h-13zM1079 443h9v1h-9zM1075 582h10v2h-10zM733 336h10v1h-10zM1045 634h9v1h-9zM1055 562h9v2h-9zM1103 430h7v1h-7zM1088 528h10v2h-10zM1098 351h12v1h-12zM760 494h11v1h-11zM776 618h12v1h-12zM1097 417h5v1h-5zM1091 426h9v1h-9zM793 600h10v1h-10zM774 548h6v2h-6zM787 601h11v2h-11zM997 792h7v1h-7zM1100 373h6v1h-6zM764 563h13v2h-13zM1056 553h10v1h-10zM750 492h9v1h-9zM1081 396h6v1h-6zM723 212h8v1h-8zM782 676h12v1h-12zM834 791h11v1h-11zM1081 449h8v1h-8zM1010 713h8v2h-8zM845 763h5v1h-5zM1078 626h11v2h-11zM759 487h8v2h-8zM1085 648h10v1h-10zM825 794h7v1h-7zM837 709h7v1h-7zM824 739h6v1h-6zM770 541h6v1h-6zM1091 463h5v1h-5zM837 699h7v2h-7zM1105 410h6v2h-6zM1107 248h11v1h-11zM1073 574h4v1h-4zM832 736h5v1h-5zM733 350h8v2h-8zM730 347h13v1h-13zM729 211h5v1h-5zM778 563h9v1h-9zM766 518h5v1h-5zM1085 527h10v1h-10zM820 702h10v1h-10zM1025 713h5v2h-5zM1015 781h11v2h-11zM1062 620h11v2h-11zM1083 405h10v1h-10zM769 580h8v1h-8zM738 400h5v1h-5zM1081 590h6v1h-6zM730 536h5v2h-5zM997 771h7v1h-7zM1074 593h6v1h-6zM1079 618h5v2h-5zM1074 428h11v2h-11zM768 569h9v1h-9zM737 337h8v1h-8zM1072 714h7v1h-7zM1005 733h11v2h-11zM804 670h9v1h-9zM1098 390h7v1h-7zM980 821h5v2h-5zM855 736h5v2h-5zM1072 549h11v1h-11zM1047 656h10v1h-10zM1079 412h6v1h-6zM718 381h13v2h-13zM989 805h7v1h-7zM1040 632h9v1h-9zM1072 445h11v2h-11zM849 737h6v1h-6zM1029 777h12v1h-12zM1004 762h5v2h-5zM774 696h11v1h-11zM799 660h9v1h-9zM843 766h11v2h-11zM868 836h8v2h-8zM849 776h10v1h-10zM1101 310h13v2h-13zM803 657h12v2h-12zM1049 599h6v1h-6zM1021 693h5v1h-5zM1042 767h11v1h-11zM882 829h9v1h-9zM1103 315h7v2h-7zM724 184h11v1h-11zM730 204h7v2h-7zM863 763h8v2h-8zM772 612h10v1h-10zM873 836h4v2h-4zM1057 548h4v1h-4zM785 590h10v2h-10zM1093 370h6v1h-6zM1033 719h6v2h-6zM727 225h11v1h-11zM1086 480h6v2h-6zM720 228h10v1h-10zM1117 265h7v1h-7zM1096 344h12v1h-12zM1028 769h6v1h-6zM778 531h4v1h-4zM789 620h12v1h-12zM763 523h11v1h-11zM749 464h13v1h-13zM774 587h11v1h-11zM835 819h10v1h-10zM812 642h8v2h-8zM1114 315h6v1h-6zM1051 617h5v1h-5zM1019 703h7v1h-7zM714 305h12v1h-12zM1073 492h5v1h-5zM1078 505h6v1h-6zM1087 417h6v1h-6zM1075 495h12v1h-12zM749 509h10v1h-10zM1116 327h5v1h-5zM736 366h7v1h-7zM1070 495h12v1h-12zM970 828h4v1h-4zM1023 719h8v2h-8zM1091 359h9v2h-9zM1005 724h6v1h-6zM1104 355h5v1h-5zM714 245h6v1h-6zM1072 530h11v2h-11zM1054 566h9v1h-9zM840 820h8v2h-8zM747 557h10v1h-10zM737 526h10v1h-10zM1066 491h8v2h-8zM874 816h8v1h-8zM1119 331h9v1h-9zM832 778h7v2h-7zM838 719h10v1h-10zM1113 253h10v1h-10zM1026 745h5v1h-5zM856 744h9v2h-9zM1095 329h4v1h-4zM864 825h8v1h-8zM714 353h10v2h-10zM726 505h11v1h-11zM1035 649h5v2h-5zM1003 738h8v2h-8zM1065 656h6v1h-6zM833 777h5v1h-5zM784 597h5v2h-5zM765 468h6v1h-6zM1005 804h11v1h-11zM1020 697h8v2h-8zM806 633h7v1h-7zM1052 618h8v1h-8zM1012 723h11v1h-11zM1119 349h9v1h-9zM749 438h11v1h-11zM748 519h13v2h-13zM1104 291h4v1h-4zM1092 388h10v1h-10zM800 628h11v2h-11zM894 839h6v2h-6zM1098 468h5v2h-5zM781 624h12v1h-12zM831 815h11v2h-11zM971 809h12v1h-12zM730 417h5v1h-5zM1004 751h7v1h-7zM1088 383h12v2h-12zM749 474h6v1h-6zM1063 571h13v1h-13zM1006 725h5v2h-5zM1099 377h9v1h-9zM819 679h13v2h-13zM726 285h9v1h-9zM750 417h9v2h-9zM1028 693h12v1h-12zM1095 334h6v1h-6zM1009 735h12v1h-12zM1110 373h8v1h-8zM1073 572h6v2h-6zM768 510h5v2h-5zM1078 460h10v1h-10zM748 559h4v2h-4zM1085 516h5v2h-5zM814 667h10v2h-10zM813 705h9v1h-9zM714 366h12v1h-12zM1029 715h12v1h-12zM1111 346h5v2h-5zM727 257h9v1h-9zM1084 508h10v1h-10zM725 415h8v1h-8zM1102 474h13v2h-13zM727 292h10v1h-10zM778 631h11v2h-11zM1058 561h10v2h-10zM870 807h12v2h-12zM1077 508h9v2h-9zM741 452h9v2h-9zM1110 399h10v1h-10zM723 303h11v1h-11zM1021 750h13v1h-13zM828 730h9v1h-9zM1078 476h5v1h-5zM737 376h7v2h-7zM964 844h11v2h-11zM1030 683h10v2h-10zM724 254h7v2h-7zM751 537h12v1h-12zM777 577h12v1h-12zM884 841h10v2h-10zM1092 432h8v2h-8zM860 794h7v1h-7zM980 777h8v1h-8zM1110 241h12v1h-12zM1018 691h7v2h-7zM856 827h8v1h-8zM736 313h7v1h-7zM726 363h10v2h-10zM1005 799h13v2h-13zM750 446h5v2h-5zM714 462h13v2h-13zM837 709h5v2h-5zM832 727h11v1h-11zM1070 463h10v1h-10zM761 464h5v1h-5zM761 479h12v1h-12zM800 618h10v1h-10zM1093 353h6v1h-6zM851 741h9v1h-9zM1108 241h8v1h-8zM1011 721h8v2h-8zM740 391h6v1h-6zM1110 421h5v1h-5zM803 761h7v2h-7zM1053 755h13v2h-13zM847 737h11v1h-11zM760 517h10v2h-10zM1028 691h11v2h-11zM1050 647h11v1h-11zM763 498h11v1h-11zM767 480h6v1h-6zM1060 542h13v2h-13zM996 757h11v1h-11zM731 279h7v2h-7zM734 397h12v1h-12zM1087 441h6v1h-6zM810 630h6v2h-6zM1071 568h5v2h-5zM791 607h6v1h-6zM866 788h12v1h-12zM1072 443h7v1h-7zM1082 544h6v2h-6zM874 836h9v1h-9zM1025 739h5v1h-5zM1062 683h7v1h-7zM1075 515h12v1h-12zM864 833h5v1h-5zM1089 400h7v1h-7zM776 655h10v1h-10zM1054 741h5v1h-5zM1127 417h6v2h-6zM761 447h6v2h-6zM1006 732h7v1h-7zM1047 628h9v1h-9zM732 220h5v2h-5zM758 499h10v2h-10zM826 703h10v2h-10zM1079 555h5v1h-5zM802 730h8v2h-8zM737 335h6v2h-6zM733 362h12v1h-12zM869 825h6v1h-6zM1075 618h10v1h-10zM806 674h5v1h-5zM1037 705h4v2h-4zM1033 649h6v1h-6zM999 786h8v1h-8zM746 515h10v1h-10zM852 719h5v1h-5zM764 563h7v1h-7zM724 378h10v1h-10zM726 289h10v1h-10zM1044 626h8v2h-8zM808 659h6v2h-6zM823 736h13v1h-13zM845 771h11v1h-11zM844 716h9v2h-9zM726 325h11v1h-11zM853 753h10v1h-10zM1032 730h6v1h-6zM750 484h5v2h-5zM867 765h4v2h-4zM1080 471h9v1h-9zM1019 705h5v1h-5zM1064 647h10v2h-10zM1004 823h7v1h-7zM732 248h5v1h-5zM714 360h9v1h-9zM875 804h5v2h-5zM976 788h12v1h-12zM791 738h9v1h-9zM1078 615h5v1h-5zM1109 319h7v2h-7zM727 347h7v2h-7zM1050 611h8v2h-8zM750 456h13v1h-13zM1079 460h13v1h-13zM1076 557h6v1h-6zM1022 696h10v1h-10zM967 804h12v1h-12zM1072 483h11v1h-11zM792 624h5v2h-5zM759 496h9v1h-9zM741 368h6v1h-6zM870 811h12v1h-12zM735 336h8v1h-8zM764 513h5v2h-5zM1069 651h5v2h-5zM742 407h6v2h-6zM1054 702h11v2h-11zM750 515h7v2h-7zM996 807h11v1h-11zM1099 488h12v2h-12zM1089 505h6v1h-6zM753 474h13v1h-13zM1072 497h9v1h-9zM844 744h7v1h-7zM1058 582h6v1h-6zM719 193h8v1h-8zM1070 568h4v1h-4zM744 449h5v1h-5zM1105 243h9v1h-9zM1098 490h10v1h-10zM853 775h7v1h-7zM729 373h12v2h-12zM838 769h8v2h-8zM734 369h5v2h-5zM1047 609h6v2h-6zM979 831h10v1h-10zM1087 475h12v1h-12zM830 708h12v1h-12zM1011 786h11v2h-11zM1030 716h13v1h-13zM1092 385h9v1h-9zM753 580h5v1h-5zM813 679h5v1h-5zM735 403h7v1h-7zM739 364h7v2h-7zM1068 472h5v2h-5zM1062 604h6v1h-6zM1087 392h11v2h-11zM829 821h6v1h-6zM1001 760h6v2h-6zM729 426h8v1h-8zM756 450h5v2h-5zM1096 424h10v1h-10zM1056 566h10v2h-10zM1108 433h11v1h-11zM764 552h5v1h-5zM825 771h8v1h-8zM755 488h11v1h-11zM1031 717h7v1h-7zM1015 757h7v1h-7zM722 323h9v2h-9zM733 429h9v1h-9zM1059 639h10v2h-10zM770 503h8v1h-8zM1022 696h5v1h-5zM764 593h7v1h-7zM804 663h4v1h-4zM990 767h11v2h-11zM1083 551h11v1h-11zM714 390h11v1h-11zM989 794h7v2h-7zM741 509h6v1h-6zM714 241h6v2h-6zM737 359h8v2h-8zM970 800h11v1h-11zM851 772h6v2h-6zM1043 700h7v1h-7zM817 678h11v1h-11zM723 294h13v1h-13zM722 230h4v1h-4zM1053 574h12v1h-12zM1091 356h13v2h-13zM722 338h9v1h-9zM857 843h12v1h-12zM1013 696h11v1h-11zM969 799h8v2h-8zM742 455h12v2h-12zM1040 664h7v2h-7zM1109 271h11v1h-11zM1112 254h11v2h-11zM1088 396h5v1h-5zM756 476h7v1h-7zM731 276h7v1h-7zM724 333h8v2h-8zM1061 573h12v1h-12zM807 641h8v1h-8zM774 585h11v2h-11zM862 808h5v1h-5zM1114 292h8v1h-8zM1082 568h7v2h-7zM1027 723h8v1h-8zM1079 460h6v2h-6zM1114 314h13v1h-13zM754 575h6v1h-6zM1052 691h8v1h-8zM730 236h9v1h-9zM960 835h10v1h-10zM731 348h8v1h-8zM834 829h12v2h-12zM923 972h6v1h-6zM926 796h9v2h-9zM926 943h9v1h-9zM933 803h6v1h-6zM892 868h7v1h-7zM925 903h7v1h-7zM944 859h4v3h-4zM932 821h10v2h-10zM908 927h3v1h-3zM938 898h10v1h-10zM938 976h4v1h-4zM1004 842h12v3h-12zM933 959h2v1h-2zM929 969h7v2h-7zM940 885h11v1h-11zM907 906h2v1h-2zM981 800h6v2h-6zM942 903h10v2h-10zM928 995h2v1h-2zM927 944h6v1h-6zM884 810h6v1h-6zM922 827h4v1h-4zM895 948h9v1h-9zM965 859h8v1h-8zM1012 836h3v2h-3zM930 902h11v1h-11zM929 877h8v1h-8zM984 886h7v1h-7zM917 861h7v2h-7zM942 907h3v2h-3zM928 876h3v2h-3zM931 817h9v2h-9zM931 803h8v1h-8zM946 838h4v1h-4zM946 856h9v2h-9zM951 884h9v1h-9zM926 947h7v1h-7zM939 889h8v1h-8zM925 935h5v1h-5zM942 900h6v1h-6zM962 920h4v1h-4zM965 939h10v1h-10zM901 797h6v2h-6zM890 850h3v1h-3zM936 942h3v1h-3zM900 952h8v2h-8zM869 807h5v2h-5zM974 833h5v3h-5zM911 812h8v1h-8zM916 863h6v3h-6zM917 826h6v2h-6zM930 924h9v1h-9zM935 924h7v1h-7zM927 962h3v2h-3zM949 829h11v1h-11zM934 971h9v1h-9zM894 819h8v2h-8zM889 829h8v2h-8zM887 808h3v1h-3zM902 812h13v3h-13zM905 861h8v2h-8zM943 903h8v1h-8zM940 839h8v3h-8zM981 846h12v3h-12zM851 845h7v2h-7zM926 907h5v2h-5zM946 917h4v1h-4zM961 837h9v1h-9zM947 915h5v1h-5zM853 820h6v3h-6zM903 850h6v2h-6zM955 839h8v2h-8zM943 972h6v2h-6zM889 791h11v2h-11zM914 834h12v1h-12zM948 896h3v1h-3zM921 915h3v1h-3zM910 918h9v1h-9zM904 806h13v1h-13zM995 811h6v3h-6zM936 822h6v3h-6zM926 888h7v2h-7zM937 966h3v2h-3zM939 898h5v2h-5zM930 794h7v2h-7zM920 937h2v1h-2zM886 794h7v1h-7zM893 815h12v3h-12zM945 812h4v3h-4zM936 978h3v1h-3zM833 806h8v1h-8zM925 980h8v2h-8zM918 929h6v2h-6zM997 821h6v3h-6zM952 828h11v3h-11zM947 871h3v2h-3zM937 917h5v2h-5zM856 792h9v2h-9zM932 931h2v2h-2zM923 895h9v1h-9zM928 970h4v2h-4zM896 879h7v1h-7zM898 806h13v2h-13zM922 891h4v1h-4zM922 802h13v2h-13zM943 834h8v2h-8zM935 935h3v1h-3zM982 802h4v1h-4zM920 905h6v2h-6zM938 987h3v2h-3zM887 849h6v3h-6zM914 843h9v3h-9zM890 806h4v2h-4zM937 869h7v2h-7zM1021 795h10v2h-10zM918 816h9v2h-9zM971 806h4v2h-4zM960 900h4v1h-4zM910 897h7v1h-7zM923 872h6v1h-6zM961 939h8v2h-8zM948 869h8v2h-8zM931 978h4v1h-4zM917 881h11v1h-11zM974 869h3v2h-3zM912 939h3v1h-3zM951 811h9v2h-9zM944 820h13v2h-13zM971 853h6v3h-6zM939 854h7v2h-7zM985 813h11v3h-11zM904 806h5v3h-5zM995 824h7v1h-7zM844 831h10v2h-10zM858 795h7v2h-7zM968 897h4v2h-4zM930 888h11v1h-11zM926 792h10v1h-10zM950 826h4v3h-4zM955 805h6v2h-6zM949 979h6v2h-6zM928 899h11v1h-11zM951 910h11v1h-11zM936 958h9v1h-9zM998 791h6v2h-6zM946 939h9v2h-9zM927 817h4v2h-4zM930 946h3v2h-3zM909 927h8v1h-8zM929 992h7v1h-7zM970 803h6v3h-6zM913 818h6v2h-6zM896 841h3v2h-3zM956 842h7v2h-7zM948 958h8v2h-8zM950 813h8v1h-8zM930 836h4v2h-4zM920 852h7v2h-7zM909 897h7v2h-7zM906 844h6v2h-6zM956 868h11v2h-11zM915 851h11v2h-11zM928 866h6v3h-6zM963 848h5v2h-5zM931 849h12v2h-12zM936 820h11v2h-11zM912 811h8v2h-8zM928 935h3v1h-3z" fill="#0000ff" shape-rendering="crispEdges"/>
<path d="M714 338h13v1h-13zM1083 446h6v1h-6zM853 822h5v1h-5zM1035 683h6v1h-6zM748 443h9v1h-9zM812 667h9v1h-9zM1103 399h13v1h-13zM751 485h10v1h-10zM1052 586h5v1h-5zM1048 596h4v1h-4zM767 539h9v1h-9zM733 410h8v1h-8zM1011 783h6v1h-6zM800 714h13v1h-13zM1093 434h12v2h-12zM1059 528h6v1h-6zM1105 359h13v2h-13zM1055 617h9v1h-9zM976 789h6v1h-6zM1106 429h11v1h-11zM1032 671h9v2h-9zM1059 536h5v1h-5zM1021 750h4v1h-4zM1075 430h12v1h-12zM1087 425h5v1h-5zM843 804h7v1h-7zM816 689h9v1h-9zM755 576h10v1h-10zM714 235h12v1h-12zM743 392h5v2h-5zM749 533h12v1h-12zM737 459h7v1h-7zM843 834h6v2h-6zM733 378h12v1h-12zM995 799h4v1h-4zM791 635h13v1h-13zM1069 467h10v2h-10zM992 824h11v1h-11zM759 569h12v2h-12zM983 781h11v1h-11zM747 427h5v1h-5zM744 515h8v1h-8zM1056 717h11v2h-11zM1077 545h6v1h-6zM745 419h5v2h-5zM1018 810h5v1h-5zM724 416h6v1h-6zM863 762h8v2h-8zM1111 271h12v1h-12zM759 516h12v1h-12zM791 628h5v1h-5zM747 482h8v2h-8zM738 474h5v1h-5zM977 802h9v1h-9zM832 707h9v2h-9zM770 589h7v1h-7zM1064 597h9v2h-9zM1030 666h5v1h-5zM759 500h7v1h-7zM1049 601h10v1h-10zM754 491h7v2h-7zM853 727h6v1h-6zM714 208h13v2h-13zM852 766h6v2h-6zM729 518h7v1h-7zM1100 314h9v2h-9zM821 664h5v1h-5zM804 686h7v1h-7zM965 809h13v1h-13zM1113 342h9v1h-9zM714 401h5v2h-5zM773 589h10v1h-10zM802 664h5v1h-5zM1123 251h12v1h-12zM1020 752h4v1h-4zM794 612h5v1h-5zM836 746h9v1h-9zM716 250h12v1h-12zM741 491h12v1h-12zM871 807h12v1h-12zM1111 263h11v1h-11zM963 834h6v2h-6zM786 612h4v2h-4zM987 769h7v2h-7zM752 444h4v1h-4zM776 623h6v1h-6zM822 680h6v1h-6zM1053 619h6v1h-6zM1070 517h10v2h-10zM1069 565h10v1h-10zM730 194h5v1h-5zM1082 390h7v1h-7zM1099 458h10v1h-10zM754 467h6v2h-6zM721 213h6v1h-6zM1092 402h7v2h-7zM1094 372h9v1h-9zM994 758h9v1h-9zM823 668h7v2h-7zM743 418h8v2h-8zM1011 788h7v1h-7zM776 581h13v1h-13zM871 780h5v2h-5zM762 559h9v2h-9zM844 796h10v2h-10zM1005 767h5v1h-5zM964 815h12v2h-12zM1116 278h6v1h-6zM714 310h10v2h-10zM995 757h5v1h-5zM816 659h7v1h-7zM1009 705h10v1h-10zM1089 360h7v1h-7zM797 637h11v1h-11zM871 829h5v1h-5zM1054 636h11v1h-11zM744 461h5v1h-5zM725 360h12v1h-12zM714 192h12v1h-12zM779 607h10v2h-10zM1011 702h5v2h-5zM830 823h11v2h-11zM1090 364h7v2h-7zM1024 696h8v2h-8zM856 817h7v2h-7zM801 629h6v1h-6zM725 184h12v1h-12zM1087 433h11v2h-11zM972 791h5v1h-5zM777 539h5v1h-5zM758 512h9v1h-9zM1090 349h5v1h-5zM1034 697h6v1h-6zM861 838h11v1h-11zM811 672h10v1h-10zM806 642h11v1h-11zM753 464h12v2h-12zM837 716h10v1h-10zM1083 513h4v1h-4zM1095 465h10v2h-10zM754 491h6v1h-6zM1105 263h12v1h-12zM1075 584h12v1h-12zM1074 616h7v2h-7zM813 637h6v1h-6zM734 425h4v2h-4zM1062 539h6v1h-6zM1087 388h7v1h-7zM777 573h10v1h-10zM1079 435h6v1h-6zM977 810h9v1h-9zM787 601h4v1h-4zM1075 608h8v2h-8zM763 514h11v1h-11zM718 276h11v2h-11zM762 522h8v2h-8zM1089 364h10v1h-10zM1074 521h6v1h-6zM1007 733h8v2h-8zM857 832h13v1h-13zM834 721h5v2h-5zM857 769h11v2h-11zM846 717h10v1h-10zM763 564h10v2h-10zM840 697h7v1h-7zM807 632h7v1h-7zM714 202h8v1h-8zM975 805h6v1h-6zM731 337h11v1h-11zM1109 241h10v2h-10zM1003 760h10v1h-10zM799 644h12v1h-12zM727 378h12v1h-12zM1079 431h10v2h-10zM753 438h7v2h-7zM767 535h10v2h-10zM1105 270h6v1h-6zM1088 393h8v1h-8zM837 779h8v2h-8zM1094 378h10v2h-10zM824 664h6v2h-6zM739 425h11v1h-11zM1094 364h10v1h-10zM819 725h11v2h-11zM1069 506h7v1h-7zM1071 595h4v1h-4zM1105 254h5v1h-5zM1038 719h11v1h-11zM739 417h8v2h-8zM723 241h6v1h-6zM717 274h11v2h-11zM1083 417h7v2h-7zM992 780h11v1h-11zM1119 320h12v2h-12zM802 656h6v1h-6zM855 783h9v1h-9zM826 768h9v1h-9zM1080 540h8v1h-8zM969 811h10v2h-10zM901 823h6v2h-6zM892 825h4v3h-4zM914 901h7v1h-7zM910 798h5v1h-5zM864 834h5v2h-5zM935 907h6v2h-6zM950 901h8v1h-8zM1012 802h12v2h-12zM950 810h7v2h-7zM934 927h10v1h-10zM966 815h8v3h-8zM941 865h3v3h-3zM901 922h6v1h-6zM907 872h7v3h-7zM922 968h6v1h-6zM923 942h7v1h-7zM947 845h6v3h-6zM926 915h6v2h-6zM976 831h11v2h-11zM895 814h6v3h-6zM932 848h9v3h-9zM862 824h4v3h-4zM953 918h3v2h-3zM922 898h6v1h-6zM949 872h5v1h-5zM903 822h7v3h-7zM969 800h13v2h-13zM936 936h3v2h-3zM925 859h4v1h-4zM933 816h13v3h-13zM925 917h9v2h-9zM944 865h8v2h-8zM922 870h10v3h-10zM950 871h5v2h-5zM917 795h6v3h-6zM932 853h7v1h-7zM928 887h6v1h-6zM998 825h9v1h-9zM938 824h7v3h-7zM924 847h6v1h-6zM959 844h8v2h-8zM918 905h3v1h-3zM961 834h8v2h-8zM971 888h7v1h-7zM930 874h5v2h-5zM892 818h3v2h-3zM954 864h12v3h-12zM940 814h10v2h-10zM935 967h8v1h-8zM941 999h2v2h-2zM977 818h7v2h-7zM927 827h11v1h-11zM891 816h3v3h-3zM922 935h8v2h-8zM917 966h5v1h-5zM910 810h4v2h-4zM913 897h6v1h-6zM930 889h4v1h-4zM895 905h4v1h-4zM944 865h9v2h-9zM933 828h10v2h-10zM894 888h9v1h-9zM891 808h8v1h-8zM940 983h6v2h-6zM929 914h9v1h-9zM945 898h9v2h-9zM932 803h8v2h-8zM921 930h5v1h-5zM875 807h4v2h-4zM932 897h4v2h-4zM950 861h8v2h-8zM925 791h13v2h-13zM905 791h3v3h-3zM948 832h4v3h-4zM1001 842h3v2h-3zM934 925h10v1h-10zM994 830h12v1h-12zM920 903h3v1h-3z" fill="#4a4a4a" shape-rendering="crispEdges"/>
<path d="M753 168 L1110 168 L934.5 315 Z" fill="#3636d2"/>
<g clip-path="url(#triclip)"><ellipse cx="934" cy="168" rx="70" ry="75" fill="url(#glow)" opacity=".8"/><ellipse cx="960" cy="168" rx="230" ry="22" fill="url(#glow)" opacity=".45"/><path d="M910 166 L958 166 C952 172 943 178 933 179.5 C924 178 916 173 910 166 Z" fill="#30f0d0" stroke="#30f0d0" stroke-width="15" stroke-linejoin="round" filter="url(#b3)"/><path d="M955 169.5 H1010" stroke="#30e8c0" stroke-width="5" filter="url(#b2)"/><path d="M955 169 H992" stroke="#28c818" stroke-width="2.4" filter="url(#b1)"/><path d="M910 166 L958 166 C952 172 943 178 933 179.5 C924 178 916 173 910 166 Z" fill="#20d000" stroke="#20d000" stroke-width="7" stroke-linejoin="round" filter="url(#b1)"/><path d="M910 166 L958 166 C952 172 943 178 933 179.5 C924 178 916 173 910 166 Z" fill="#f0f000" stroke="#f0f000" stroke-width="2.6" stroke-linejoin="round" filter="url(#b05)"/><path d="M910 166 L958 166 C952 172 943 178 933 179.5 C924 178 916 173 910 166 Z" fill="#ff3000"/><path d="M753 168.5H905M1000 168.5H1110" stroke="#7aa0f0" stroke-width="1"/></g>
<path d="M753 168 L934.5 315 L1110 168" fill="none" stroke="#e8e2b0" stroke-width="1.2"/>
<path d="M738 168h10M1113 168h12" stroke="#f0e020" stroke-width="2"/>
<path d="M712 304.0H1158" stroke="#222" stroke-width="1.6" stroke-dasharray="3.5 7" opacity=".3"/>
<path d="M712 439.7H1158" stroke="#222" stroke-width="1.6" stroke-dasharray="3.5 7" opacity=".3"/>
<path d="M712 575.4H1158" stroke="#222" stroke-width="1.6" stroke-dasharray="3.5 7" opacity=".3"/>
<path d="M712 711.1H1158" stroke="#222" stroke-width="1.6" stroke-dasharray="3.5 7" opacity=".3"/>
<path d="M712 982.5H1158" stroke="#222" stroke-width="1.6" stroke-dasharray="3.5 7" opacity=".3"/>
<path d="M932.5 168V1052" stroke="#222" stroke-width="1.6" stroke-dasharray="3.5 7" opacity=".3"/>
<path d="M712 846.8H1158M936.7 168V1052" stroke="#181818" stroke-width="1.3"/>
</g>
<path d="M702 166.5H1158" stroke="#333" stroke-width="1.8"/>
<path d="M712.5 167V1052" stroke="#333" stroke-width="1.4"/>
<path d="M721.9 167v-6M748.8 167v-6M775.6 167v-6M802.5 167v-10M829.3 167v-6M856.2 167v-6M883.0 167v-6M909.9 167v-6M936.7 167v-10M963.6 167v-6M990.4 167v-6M1017.2 167v-6M1044.1 167v-6M1071.0 167v-10M1097.8 167v-6M1124.7 167v-6M1151.5 167v-6" stroke="#333" stroke-width="1.6"/>
<path d="M712 168.3h-11M712 202.2h-6M712 236.1h-6M712 270.1h-6M712 304.0h-11M712 337.9h-6M712 371.8h-6M712 405.8h-6M712 439.7h-11M712 473.6h-6M712 507.5h-6M712 541.5h-6M712 575.4h-11M712 609.3h-6M712 643.2h-6M712 677.2h-6M712 711.1h-11M712 745.0h-6M712 778.9h-6M712 812.9h-6M712 846.8h-11M712 880.7h-6M712 914.6h-6M712 948.6h-6M712 982.5h-11M712 1016.4h-6M712 1050.3h-6" stroke="#333" stroke-width="1.6"/>
<circle cx="934.5" cy="315.5" r="7" fill="#f4f4ec" stroke="#cfcfc0" stroke-width="1"/><circle cx="934.5" cy="315.5" r="3.6" fill="#d8d84a"/>
<path d="M741 336.5 L856 255" stroke="#fff" stroke-width="3.4" fill="none"/><path d="M837.5 256.5 L857.5 253.5 L849 271" stroke="#fff" stroke-width="3.4" fill="none" stroke-linejoin="miter"/>
</svg>
<div style="position:absolute;left:1158px;top:167px;width:17px;height:885px;background:#e4e4e4;"></div>
<div style="position:absolute;left:1159px;top:396px;width:15px;height:277px;background:linear-gradient(90deg,#fdfdfd,#f3f3f3);border:1px solid #d6d6d6;box-sizing:border-box;"></div>
<div style="position:absolute;left:1158px;top:167px;width:17px;height:16px;background:#f4f4f4;"></div>
<div style="position:absolute;left:1158px;top:1034px;width:17px;height:18px;background:#f4f4f4;"></div>
<svg style="position:absolute;left:1160px;top:171px" width="13" height="8"><path d="M1 7 L6.5 1.5 L12 7Z" fill="#666"/></svg>
<svg style="position:absolute;left:1160px;top:1038px" width="13" height="8"><path d="M1 1 L6.5 6.5 L12 1Z" fill="#666"/></svg>
<div style="position:absolute;left:712px;top:1052px;width:446px;height:17px;background:#e4e4e4;"></div>
<div style="position:absolute;left:825px;top:1053px;width:219px;height:15px;background:linear-gradient(#fdfdfd,#f3f3f3);border:1px solid #d6d6d6;box-sizing:border-box;"></div>
<div style="position:absolute;left:712px;top:1052px;width:16px;height:17px;background:#f4f4f4;"></div>
<div style="position:absolute;left:1141px;top:1052px;width:17px;height:17px;background:#f4f4f4;"></div>
<svg style="position:absolute;left:716px;top:1054px" width="8" height="13"><path d="M7 1 L1.5 6.5 L7 12Z" fill="#666"/></svg>
<svg style="position:absolute;left:1145px;top:1054px" width="8" height="13"><path d="M1 1 L6.5 6.5 L1 12Z" fill="#666"/></svg>
<div style="position:absolute;top:94.61px;line-height:21px;font-size:15px;font-family:'DejaVu Sans',sans-serif;color:#111;white-space:nowrap;font-weight:bold;left:909.5px;transform:translateX(-50%);">Correlation vs. Time Shift (Observed) [ms]</div>
<div style="position:absolute;top:120.61px;line-height:21px;font-size:15px;font-family:'DejaVu Sans',sans-serif;color:#1a1a1a;white-space:nowrap;left:935px;transform:translateX(-50%);">Time Shift (Observed) [ms]</div>
<div style="position:absolute;top:139.61px;line-height:21px;font-size:15px;font-family:'DejaVu Sans',sans-serif;color:#1a1a1a;white-space:nowrap;left:801.95px;transform:translateX(-50%);">-5</div>
<div style="position:absolute;top:139.61px;line-height:21px;font-size:15px;font-family:'DejaVu Sans',sans-serif;color:#1a1a1a;white-space:nowrap;left:936.2px;transform:translateX(-50%);">0</div>
<div style="position:absolute;top:139.61px;line-height:21px;font-size:15px;font-family:'DejaVu Sans',sans-serif;color:#1a1a1a;white-space:nowrap;left:1070.45px;transform:translateX(-50%);">5</div>
<div style="position:absolute;top:164.81px;line-height:21px;font-size:15px;font-family:'DejaVu Sans',sans-serif;color:#1a1a1a;white-space:nowrap;left:699.5px;transform:translateX(-100%);">1.0</div>
<div style="position:absolute;top:294.81px;line-height:21px;font-size:15px;font-family:'DejaVu Sans',sans-serif;color:#1a1a1a;white-space:nowrap;left:699.5px;transform:translateX(-100%);">0.8</div>
<div style="position:absolute;top:430.51px;line-height:21px;font-size:15px;font-family:'DejaVu Sans',sans-serif;color:#1a1a1a;white-space:nowrap;left:699.5px;transform:translateX(-100%);">0.6</div>
<div style="position:absolute;top:566.21px;line-height:21px;font-size:15px;font-family:'DejaVu Sans',sans-serif;color:#1a1a1a;white-space:nowrap;left:699.5px;transform:translateX(-100%);">0.4</div>
<div style="position:absolute;top:701.91px;line-height:21px;font-size:15px;font-family:'DejaVu Sans',sans-serif;color:#1a1a1a;white-space:nowrap;left:699.5px;transform:translateX(-100%);">0.2</div>
<div style="position:absolute;top:837.61px;line-height:21px;font-size:15px;font-family:'DejaVu Sans',sans-serif;color:#1a1a1a;white-space:nowrap;left:699.5px;transform:translateX(-100%);">0.0</div>
<div style="position:absolute;top:973.31px;line-height:21px;font-size:15px;font-family:'DejaVu Sans',sans-serif;color:#1a1a1a;white-space:nowrap;left:699.5px;transform:translateX(-100%);">-0.2</div>
<div style="position:absolute;left:655px;top:609px;width:0;height:0"><div style="position:absolute;transform:translate(-50%,-50%) rotate(-90deg);white-space:nowrap;font-size:15px;color:#1a1a1a;line-height:20px">Correlation</div></div>
<div style="position:absolute;top:1087.11px;line-height:21px;font-size:15px;font-family:'DejaVu Sans',sans-serif;color:#111;white-space:nowrap;font-weight:bold;left:656.5px;">Histogram</div>
<div style="position:absolute;left:655.5px;top:1117px;width:18px;height:18px;border:1px solid #b0b0b0;border-radius:50%;box-sizing:border-box;background:radial-gradient(circle at 50% 40%,#fff 55%,#ececec);"></div>
<div style="position:absolute;top:1117.11px;line-height:21px;font-size:15px;font-family:'DejaVu Sans',sans-serif;color:#1a1a1a;white-space:nowrap;left:681.5px;">(2) histogram</div>
<div style="position:absolute;left:655.5px;top:1151px;width:18px;height:18px;border:1px solid #b0b0b0;border-radius:50%;box-sizing:border-box;background:radial-gradient(circle at 50% 40%,#fff 55%,#ececec);"></div>
<div style="position:absolute;left:660.3px;top:1155.8px;width:8.4px;height:8.4px;border-radius:50%;background:#3a3a3a;"></div>
<div style="position:absolute;top:1151.11px;line-height:21px;font-size:15px;font-family:'DejaVu Sans',sans-serif;color:#1a1a1a;white-space:nowrap;left:681.5px;">Crossplot Density histogram</div>
<div style="position:absolute;left:656px;top:1181.4px;width:261px;height:27.6px;border:1px solid #b4b4b4;border-radius:3px;box-sizing:border-box;background:linear-gradient(#fcfcfc,#ececec);"></div>
<div style="position:absolute;top:1186.11px;line-height:21px;font-size:15px;font-family:'DejaVu Sans',sans-serif;color:#1a1a1a;white-space:nowrap;left:662px;">Set as Volume specific histogram</div>
<div style="position:absolute;left:925px;top:1087px;width:239px;height:98px;background:linear-gradient(90deg,#0000ff 0%,#0028ff 6%,#0090ff 18%,#00d8ff 28%,#00f0d0 34%,#00d890 42%,#00b030 50%,#20b800 56%,#90d800 64%,#f8f000 72%,#ffb000 80%,#ff5000 90%,#ff0000 96%,#ff0000 100%);"></div>
<svg style="position:absolute;left:925px;top:1080px" width="245" height="116" viewBox="925 1080 245 116"><path d="M936.7 1088V1185" stroke="#a01890" stroke-width="3"/><path d="M990.5 1090V1185M1098.2 1090V1185" stroke="#101040" stroke-width="1.4"/><path d="M1044.4 1090V1185M1152 1094V1185" stroke="#e8e8e8" stroke-width="1.6"/><path d="M936.7 1090H1152" stroke="#004060" stroke-width="1" opacity=".5"/><path d="M936.7 1090 L971 1185" stroke="#c0143c" stroke-width="1.3" fill="none"/><path d="M990 1183.5h26M1035 1183.5h30M1075 1183.5h40" stroke="#e02020" stroke-width="2"/><circle cx="936.7" cy="1090" r="2.8" fill="#e81818"/><circle cx="990.5" cy="1090" r="2.8" fill="#e81818"/><circle cx="1044.4" cy="1090" r="2.8" fill="#e81818"/><circle cx="1098.2" cy="1090" r="2.8" fill="#e81818"/><rect x="940" y="1162" width="47" height="21" fill="#fff" opacity=".28"/><path d="M925 1185.5H1164" stroke="#333" stroke-width="1.4"/><path d="M927.5 1186v4M936.7 1186v8M945.9 1186v4M955.1 1186v4M964.2 1186v4M973.4 1186v4M982.6 1186v6M991.8 1186v4M1000.9 1186v4M1010.1 1186v4M1019.3 1186v4M1028.5 1186v8M1037.6 1186v4M1046.8 1186v4M1056.0 1186v4M1065.2 1186v4M1074.3 1186v6M1083.5 1186v4M1092.7 1186v4M1101.9 1186v4M1111.0 1186v4M1120.2 1186v8M1129.4 1186v4M1138.6 1186v4M1147.7 1186v4M1156.9 1186v4" stroke="#333" stroke-width="1.3"/></svg>
<div style="position:absolute;top:1162.61px;line-height:21px;font-size:15px;font-family:'DejaVu Sans',sans-serif;color:#c83a5a;white-space:nowrap;left:964px;transform:translateX(-50%);">0.000</div>
<div style="position:absolute;top:1193.61px;line-height:21px;font-size:15px;font-family:'DejaVu Sans',sans-serif;color:#1a1a1a;white-space:nowrap;left:936px;transform:translateX(-50%);">0</div>
<div style="position:absolute;top:1193.61px;line-height:21px;font-size:15px;font-family:'DejaVu Sans',sans-serif;color:#1a1a1a;white-space:nowrap;left:1027.5px;transform:translateX(-50%);">500000</div>
<div style="position:absolute;top:1193.61px;line-height:21px;font-size:15px;font-family:'DejaVu Sans',sans-serif;color:#1a1a1a;white-space:nowrap;left:1119.5px;transform:translateX(-50%);">1e+06</div>
<svg style="position:absolute;left:0;top:0" width="0" height="0"><defs>
<filter id="fbwr" filterUnits="userSpaceOnUse" x="-30" y="-30" width="290" height="1020" color-interpolation-filters="sRGB">
<feGaussianBlur in="SourceGraphic" stdDeviation="3.0 3.6" result="b"/>
<feTurbulence type="fractalNoise" baseFrequency="0.105 0.058" numOctaves="2" seed="11" result="n"/>
<feColorMatrix in="n" type="matrix" values="1 0 0 0 0  1 0 0 0 0  1 0 0 0 0  0 0 0 0 1" result="ng"/>
<feComposite in="b" in2="ng" operator="arithmetic" k1="0" k2="1.35" k3="0.46" k4="-0.405" result="s"/>
<feComponentTransfer in="s"><feFuncR type="table" tableValues="0 1 1"/><feFuncG type="table" tableValues="0 1 0"/><feFuncB type="table" tableValues="1 1 0"/><feFuncA type="table" tableValues="1 1"/></feComponentTransfer>
</filter>
<linearGradient id="pale1" x1="0" y1="0" x2="0" y2="1"><stop offset="0" stop-color="#fff" stop-opacity="0"/><stop offset="0.2" stop-color="#fff" stop-opacity=".3"/><stop offset="0.8" stop-color="#fff" stop-opacity=".3"/><stop offset="1" stop-color="#fff" stop-opacity="0"/></linearGradient>
<linearGradient id="topfade" x1="0" y1="0" x2="0" y2="1"><stop offset="0" stop-color="#fefdfe"/><stop offset="0.955" stop-color="#fefdfe"/><stop offset="1" stop-color="#fefdfe" stop-opacity="0"/></linearGradient>
</defs></svg>
<svg style="position:absolute;left:1288px;top:144px" width="227" height="954" viewBox="0 0 227 954"><g filter="url(#fbwr)"><rect x="-30" y="-30" width="290" height="1020" fill="#808080"/><ellipse cx="113.5" cy="171.5" rx="97.6" ry="5.9" fill="#686868"/><rect x="80" y="212" width="147" height="70" fill="#636363"/><rect x="0" y="212" width="80" height="70" fill="#797979"/><rect x="0" y="300" width="227" height="30" fill="#707070"/><ellipse cx="204.0" cy="416.0" rx="19.8" ry="19.8" fill="#464646"/><ellipse cx="203.5" cy="581.0" rx="19.4" ry="12.6" fill="#525252"/><ellipse cx="118.0" cy="532.5" rx="13.8" ry="7.7" fill="#5d5d5d"/><ellipse cx="218.5" cy="507.0" rx="7.3" ry="17.1" fill="#575757"/><rect x="0" y="636" width="227" height="64" fill="#5c5c5c"/><rect x="60" y="700" width="167" height="62" fill="#606060"/><rect x="110" y="750" width="117" height="68" fill="#636363"/><ellipse cx="163.5" cy="825.0" rx="54.6" ry="9.9" fill="#333333"/><rect x="100" y="820" width="127" height="140" fill="#2b2b2b"/><ellipse cx="162.5" cy="857.0" rx="19.4" ry="17.1" fill="#464646"/><ellipse cx="30.0" cy="187.0" rx="12.0" ry="9.9" fill="#b6b6b6"/><ellipse cx="60.5" cy="189.0" rx="11.6" ry="8.1" fill="#b6b6b6"/><ellipse cx="107.0" cy="179.0" rx="4.3" ry="4.5" fill="#a5a5a5"/><ellipse cx="135.5" cy="183.0" rx="5.6" ry="3.6" fill="#a0a0a0"/><ellipse cx="164.5" cy="180.0" rx="4.7" ry="3.6" fill="#9b9b9b"/><ellipse cx="11.5" cy="205.0" rx="9.0" ry="6.3" fill="#444444"/><ellipse cx="90.0" cy="200.0" rx="13.8" ry="10.8" fill="#494949"/><ellipse cx="155.5" cy="196.5" rx="8.1" ry="9.2" fill="#000000"/><ellipse cx="194.0" cy="206.0" rx="7.6" ry="7.8" fill="#000000"/><ellipse cx="182.0" cy="193.5" rx="6.9" ry="5.9" fill="#3e3e3e"/><ellipse cx="215.5" cy="190.0" rx="9.0" ry="9.0" fill="#494949"/><ellipse cx="210.5" cy="207.5" rx="4.7" ry="4.0" fill="#808080"/><ellipse cx="34.0" cy="235.0" rx="5.2" ry="10.8" fill="#a0a0a0"/><ellipse cx="62.5" cy="234.0" rx="6.5" ry="11.7" fill="#a5a5a5"/><ellipse cx="80.5" cy="234.5" rx="3.0" ry="5.0" fill="#9b9b9b"/><ellipse cx="143.0" cy="235.5" rx="3.4" ry="5.9" fill="#a0a0a0"/><ellipse cx="2.5" cy="234.0" rx="2.5" ry="5.4" fill="#a0a0a0"/><ellipse cx="118.5" cy="280.0" rx="27.1" ry="7.2" fill="#494949"/><ellipse cx="129.0" cy="282.0" rx="10.4" ry="7.8" fill="#181818"/><ellipse cx="166.0" cy="287.5" rx="6.9" ry="5.9" fill="#444444"/><ellipse cx="206.0" cy="288.0" rx="17.2" ry="19.8" fill="#5a5a5a"/><ellipse cx="20.5" cy="294.0" rx="10.8" ry="7.2" fill="#a5a5a5"/><ellipse cx="57.5" cy="303.5" rx="7.3" ry="11.2" fill="#9b9b9b"/><ellipse cx="74.5" cy="292.0" rx="4.7" ry="6.3" fill="#b6b6b6"/><ellipse cx="98.0" cy="292.0" rx="4.3" ry="3.6" fill="#a5a5a5"/><ellipse cx="153.0" cy="302.5" rx="5.2" ry="7.7" fill="#9b9b9b"/><ellipse cx="29.5" cy="309.5" rx="15.0" ry="5.9" fill="#5a5a5a"/><ellipse cx="102.5" cy="306.5" rx="13.3" ry="5.9" fill="#5f5f5f"/><ellipse cx="13.5" cy="341.5" rx="9.0" ry="8.6" fill="#4c4c4c"/><ellipse cx="54.0" cy="342.0" rx="6.9" ry="12.6" fill="#4c4c4c"/><ellipse cx="142.0" cy="334.5" rx="6.9" ry="8.6" fill="#535353"/><ellipse cx="149.5" cy="350.0" rx="5.6" ry="7.2" fill="#b9b9b9"/><ellipse cx="207.0" cy="340.5" rx="16.3" ry="11.2" fill="#9c9c9c"/><ellipse cx="6.0" cy="370.0" rx="5.2" ry="13.5" fill="#b2b2b2"/><ellipse cx="72.5" cy="361.0" rx="3.9" ry="7.2" fill="#cccccc"/><ellipse cx="91.5" cy="358.0" rx="4.3" ry="7.8" fill="#101010"/><ellipse cx="109.0" cy="364.0" rx="4.8" ry="13.6" fill="#101010"/><ellipse cx="184.0" cy="355.5" rx="8.5" ry="13.1" fill="#000000"/><ellipse cx="164.0" cy="381.5" rx="5.7" ry="9.2" fill="#000000"/><ellipse cx="206.5" cy="387.0" rx="4.3" ry="6.8" fill="#000000"/><ellipse cx="214.0" cy="359.5" rx="3.8" ry="4.4" fill="#101010"/><ellipse cx="34.5" cy="383.0" rx="6.2" ry="7.8" fill="#ffffff"/><ellipse cx="8.5" cy="409.5" rx="8.1" ry="12.1" fill="#ffffff"/><rect x="68" y="380" width="121" height="56" fill="#a6a6a6"/><ellipse cx="75.5" cy="395.0" rx="4.3" ry="14.5" fill="#ffffff"/><ellipse cx="90.5" cy="400.5" rx="5.2" ry="12.1" fill="#ffffff"/><ellipse cx="108.0" cy="405.0" rx="5.7" ry="16.5" fill="#ffffff"/><ellipse cx="132.5" cy="411.5" rx="6.2" ry="22.8" fill="#ffffff"/><ellipse cx="146.5" cy="416.0" rx="4.3" ry="15.5" fill="#ffffff"/><ellipse cx="166.0" cy="418.0" rx="7.6" ry="13.6" fill="#ffffff"/><ellipse cx="116.5" cy="426.5" rx="9.0" ry="11.2" fill="#ffffff"/><ellipse cx="100.5" cy="421.0" rx="5.2" ry="10.7" fill="#ffffff"/><ellipse cx="85.0" cy="446.0" rx="4.8" ry="23.3" fill="#ffffff"/><ellipse cx="102.5" cy="456.5" rx="5.6" ry="12.2" fill="#cccccc"/><ellipse cx="181.0" cy="424.0" rx="6.0" ry="9.9" fill="#cccccc"/><ellipse cx="62.0" cy="387.5" rx="3.4" ry="5.9" fill="#cccccc"/><ellipse cx="120.5" cy="406.5" rx="6.2" ry="11.2" fill="#efefef"/><ellipse cx="94.0" cy="416.5" rx="5.7" ry="8.2" fill="#efefef"/><ellipse cx="24.5" cy="427.5" rx="5.2" ry="6.3" fill="#000000"/><ellipse cx="36.5" cy="428.5" rx="5.2" ry="6.3" fill="#000000"/><ellipse cx="63.5" cy="426.0" rx="5.2" ry="7.8" fill="#000000"/><ellipse cx="224.5" cy="430.0" rx="2.4" ry="7.8" fill="#000000"/><ellipse cx="14.0" cy="468.0" rx="12.3" ry="10.7" fill="#101010"/><ellipse cx="149.0" cy="445.5" rx="8.6" ry="7.7" fill="#404040"/><ellipse cx="63.0" cy="465.0" rx="9.5" ry="7.2" fill="#464646"/><ellipse cx="120.0" cy="465.0" rx="4.3" ry="5.4" fill="#404040"/><ellipse cx="191.0" cy="451.5" rx="5.2" ry="5.0" fill="#4c4c4c"/><ellipse cx="218.5" cy="455.0" rx="7.3" ry="8.1" fill="#464646"/><ellipse cx="176.5" cy="459.5" rx="9.0" ry="7.3" fill="#efefef"/><ellipse cx="33.5" cy="476.5" rx="5.2" ry="6.3" fill="#efefef"/><ellipse cx="194.0" cy="476.5" rx="4.3" ry="5.9" fill="#bfbfbf"/><ellipse cx="94.5" cy="475.0" rx="3.9" ry="3.6" fill="#b9b9b9"/><ellipse cx="60.0" cy="492.0" rx="6.9" ry="8.1" fill="#525252"/><ellipse cx="132.5" cy="490.0" rx="9.9" ry="9.9" fill="#525252"/><ellipse cx="185.5" cy="491.0" rx="5.2" ry="9.7" fill="#181818"/><ellipse cx="220.0" cy="497.0" rx="6.0" ry="7.2" fill="#464646"/><ellipse cx="43.0" cy="503.0" rx="12.9" ry="8.1" fill="#a2a2a2"/><ellipse cx="164.0" cy="484.0" rx="12.0" ry="5.4" fill="#a8a8a8"/><ellipse cx="91.5" cy="505.0" rx="9.9" ry="6.3" fill="#a2a2a2"/><ellipse cx="90.0" cy="476.5" rx="11.2" ry="4.0" fill="#b3b3b3"/><ellipse cx="44.0" cy="513.0" rx="14.6" ry="19.8" fill="#a8a8a8"/><ellipse cx="88.0" cy="509.0" rx="9.5" ry="9.0" fill="#adadad"/><ellipse cx="145.0" cy="519.5" rx="12.0" ry="14.0" fill="#a8a8a8"/><ellipse cx="8.0" cy="540.0" rx="6.9" ry="7.2" fill="#adadad"/><ellipse cx="99.0" cy="566.5" rx="16.3" ry="22.9" fill="#a8a8a8"/><ellipse cx="27.0" cy="560.5" rx="2.6" ry="8.6" fill="#a2a2a2"/><ellipse cx="167.0" cy="574.0" rx="6.9" ry="10.8" fill="#9c9c9c"/><ellipse cx="190.5" cy="543.0" rx="8.2" ry="7.2" fill="#969696"/><ellipse cx="24.0" cy="527.0" rx="6.0" ry="9.9" fill="#404040"/><ellipse cx="168.5" cy="539.0" rx="5.6" ry="13.5" fill="#404040"/><ellipse cx="44.0" cy="566.5" rx="9.5" ry="11.2" fill="#404040"/><ellipse cx="67.5" cy="559.0" rx="10.8" ry="9.9" fill="#464646"/><ellipse cx="63.0" cy="574.0" rx="4.8" ry="8.7" fill="#000000"/><ellipse cx="91.0" cy="532.0" rx="3.4" ry="5.4" fill="#464646"/><ellipse cx="148.0" cy="573.0" rx="6.9" ry="11.7" fill="#575757"/><ellipse cx="20.0" cy="611.0" rx="10.4" ry="18.4" fill="#ffffff"/><ellipse cx="42.0" cy="587.0" rx="3.4" ry="4.5" fill="#adadad"/><ellipse cx="97.0" cy="606.0" rx="5.2" ry="7.2" fill="#c4c4c4"/><ellipse cx="193.0" cy="607.0" rx="24.9" ry="6.3" fill="#b3b3b3"/><ellipse cx="140.5" cy="629.5" rx="9.0" ry="5.3" fill="#ffffff"/><ellipse cx="79.0" cy="604.0" rx="9.5" ry="9.0" fill="#5d5d5d"/><ellipse cx="119.0" cy="619.0" rx="7.7" ry="7.2" fill="#525252"/><ellipse cx="167.0" cy="625.0" rx="9.5" ry="7.2" fill="#464646"/><ellipse cx="166.5" cy="652.0" rx="10.0" ry="13.6" fill="#000000"/><ellipse cx="188.0" cy="651.0" rx="7.6" ry="8.7" fill="#000000"/><ellipse cx="138.0" cy="654.5" rx="5.7" ry="8.2" fill="#ffffff"/><ellipse cx="120.5" cy="653.5" rx="4.7" ry="13.1" fill="#c4c4c4"/><ellipse cx="100.0" cy="656.5" rx="3.8" ry="6.3" fill="#efefef"/><ellipse cx="43.5" cy="652.5" rx="4.7" ry="7.7" fill="#b9b9b9"/><ellipse cx="4.5" cy="653.0" rx="3.9" ry="7.2" fill="#b2b2b2"/><ellipse cx="83.5" cy="655.5" rx="3.0" ry="5.0" fill="#b2b2b2"/><ellipse cx="218.0" cy="653.5" rx="3.4" ry="4.0" fill="#b2b2b2"/><ellipse cx="213.5" cy="634.5" rx="4.7" ry="3.1" fill="#9c9c9c"/><ellipse cx="64.5" cy="646.0" rx="6.2" ry="6.8" fill="#000000"/><ellipse cx="19.5" cy="661.0" rx="7.1" ry="10.7" fill="#000000"/><ellipse cx="92.5" cy="642.5" rx="4.7" ry="4.0" fill="#464646"/><ellipse cx="109.5" cy="651.5" rx="4.3" ry="9.2" fill="#101010"/><ellipse cx="14.0" cy="684.0" rx="13.3" ry="18.4" fill="#000000"/><ellipse cx="43.0" cy="681.0" rx="11.4" ry="7.8" fill="#000000"/><ellipse cx="18.0" cy="733.5" rx="12.9" ry="7.7" fill="#333333"/><ellipse cx="43.0" cy="714.0" rx="31.8" ry="11.7" fill="#bfbfbf"/><ellipse cx="54.5" cy="725.0" rx="10.0" ry="16.5" fill="#efefef"/><ellipse cx="71.0" cy="692.5" rx="15.2" ry="8.2" fill="#e7e7e7"/><ellipse cx="135.5" cy="695.5" rx="13.8" ry="9.2" fill="#efefef"/><ellipse cx="168.0" cy="711.0" rx="6.6" ry="10.7" fill="#ffffff"/><ellipse cx="179.0" cy="718.0" rx="6.6" ry="11.6" fill="#ffffff"/><ellipse cx="191.5" cy="709.0" rx="8.1" ry="14.5" fill="#ffffff"/><ellipse cx="196.0" cy="721.0" rx="5.7" ry="8.7" fill="#efefef"/><ellipse cx="184.5" cy="680.0" rx="5.6" ry="10.8" fill="#cccccc"/><ellipse cx="211.0" cy="686.0" rx="5.7" ry="13.6" fill="#efefef"/><ellipse cx="221.0" cy="701.0" rx="5.7" ry="10.7" fill="#ffffff"/><ellipse cx="90.0" cy="709.0" rx="12.3" ry="7.8" fill="#000000"/><ellipse cx="137.5" cy="736.5" rx="11.9" ry="9.2" fill="#000000"/><ellipse cx="89.5" cy="745.5" rx="9.0" ry="4.4" fill="#000000"/><ellipse cx="168.5" cy="735.0" rx="5.6" ry="9.9" fill="#404040"/><ellipse cx="207.0" cy="736.5" rx="16.3" ry="11.2" fill="#404040"/><ellipse cx="120.0" cy="683.5" rx="6.9" ry="5.0" fill="#333333"/><ellipse cx="102.5" cy="731.5" rx="3.0" ry="6.8" fill="#b2b2b2"/><ellipse cx="140.5" cy="769.5" rx="5.6" ry="11.2" fill="#c6c6c6"/><ellipse cx="195.5" cy="764.0" rx="8.2" ry="6.3" fill="#a6a6a6"/><ellipse cx="171.5" cy="796.5" rx="5.2" ry="12.1" fill="#ffffff"/><ellipse cx="191.0" cy="796.5" rx="2.6" ry="5.9" fill="#cccccc"/><ellipse cx="222.5" cy="798.0" rx="3.0" ry="7.2" fill="#c6c6c6"/><ellipse cx="143.5" cy="806.5" rx="5.6" ry="3.1" fill="#a6a6a6"/><ellipse cx="201.5" cy="799.0" rx="5.2" ry="7.8" fill="#000000"/><ellipse cx="161.5" cy="774.0" rx="4.7" ry="7.2" fill="#404040"/><ellipse cx="179.5" cy="774.0" rx="4.7" ry="7.2" fill="#393939"/><ellipse cx="131.0" cy="804.5" rx="2.8" ry="5.3" fill="#101010"/><ellipse cx="220.0" cy="831.0" rx="6.0" ry="4.5" fill="#bfbfbf"/><rect x="0" y="748" width="36" height="212" fill="#000000"/><rect x="0" y="756" width="60" height="204" fill="#000000"/><rect x="0" y="766" width="90" height="194" fill="#000000"/><rect x="0" y="782" width="108" height="178" fill="#000000"/><rect x="0" y="796" width="117" height="164" fill="#000000"/><ellipse cx="129.0" cy="837.5" rx="7.6" ry="10.2" fill="#000000"/><ellipse cx="132.5" cy="884.0" rx="13.8" ry="13.6" fill="#000000"/><ellipse cx="151.5" cy="928.5" rx="13.8" ry="17.0" fill="#000000"/><ellipse cx="202.0" cy="926.0" rx="22.8" ry="19.4" fill="#000000"/><ellipse cx="211.5" cy="883.0" rx="13.8" ry="22.3" fill="#000000"/><ellipse cx="173.5" cy="873.0" rx="6.5" ry="5.4" fill="#808080"/><ellipse cx="130.0" cy="906.0" rx="3.4" ry="7.2" fill="#8c8c8c"/><ellipse cx="148.0" cy="903.0" rx="4.3" ry="5.4" fill="#808080"/><ellipse cx="171.5" cy="901.5" rx="4.7" ry="8.6" fill="#868686"/><ellipse cx="88.0" cy="925.0" rx="4.3" ry="9.9" fill="#737373"/><ellipse cx="98.5" cy="929.5" rx="3.0" ry="5.9" fill="#808080"/><ellipse cx="125.5" cy="933.5" rx="7.3" ry="9.5" fill="#737373"/><ellipse cx="210.5" cy="912.5" rx="4.7" ry="4.0" fill="#797979"/><ellipse cx="214.5" cy="885.5" rx="3.9" ry="5.9" fill="#666666"/><ellipse cx="217.0" cy="833.5" rx="8.6" ry="6.8" fill="#bfbfbf"/><ellipse cx="145.0" cy="806.5" rx="6.9" ry="4.0" fill="#a6a6a6"/><ellipse cx="122.5" cy="814.0" rx="2.5" ry="3.6" fill="#a6a6a6"/><ellipse cx="46.5" cy="790.0" rx="3.0" ry="9.0" fill="#333333"/><ellipse cx="72.5" cy="904.0" rx="3.0" ry="6.3" fill="#333333"/><ellipse cx="45.5" cy="938.0" rx="2.5" ry="7.2" fill="#595959"/></g><rect x="0" y="0" width="228" height="173" fill="url(#topfade)"/><rect x="0" y="205" width="228" height="90" fill="url(#pale1)"/><rect x="0" y="949" width="228" height="5" fill="#fff" opacity=".85"/></svg>
<svg style="position:absolute;left:0;top:0" width="0" height="0"><defs><filter id="fcorr" filterUnits="userSpaceOnUse" x="-30" y="-30" width="290" height="1020" color-interpolation-filters="sRGB">
<feGaussianBlur in="SourceGraphic" stdDeviation="2.2 0.9" result="b"/>
<feTurbulence type="fractalNoise" baseFrequency="0.05 0.11" numOctaves="2" seed="4" result="n"/>
<feColorMatrix in="n" type="matrix" values="1 0 0 0 0  1 0 0 0 0  1 0 0 0 0  0 0 0 0 1" result="ng"/>
<feComposite in="b" in2="ng" operator="arithmetic" k1="0" k2="1.25" k3="0.55" k4="-0.42" result="s"/>
<feComponentTransfer in="s"><feFuncR type="table" tableValues="0.5 0.25 0 0.5 1"/><feFuncG type="table" tableValues="0 0.5 1 1 1"/><feFuncB type="table" tableValues="1 0.88 0.78 0.89 1"/><feFuncA type="table" tableValues="1 1"/></feComponentTransfer>
</filter></defs></svg>
<svg style="position:absolute;left:1540px;top:144px" width="227.5" height="954" viewBox="0 0 227.5 954"><g filter="url(#fcorr)"><rect x="-30" y="-30" width="290" height="1020" fill="#fafafa"/><rect x="-5" y="-5" width="237" height="13" fill="#000000"/><rect x="0" y="8" width="102" height="11" fill="#6b6b6b"/><rect x="100" y="7" width="132" height="7" fill="#0d0d0d"/><rect x="100" y="12" width="60" height="10" fill="#595959"/><rect x="150" y="12" width="82" height="18" fill="#9e9e9e"/><rect x="130" y="14" width="20" height="5" fill="#1a1a1a"/><rect x="104" y="10" width="14" height="8" fill="#8c8c8c"/><rect x="-5" y="19" width="80" height="28.5" fill="#000000"/><rect x="60" y="34" width="172" height="12" fill="#000000"/><rect x="70" y="19" width="145" height="14" fill="#8c8c8c"/><rect x="213" y="30" width="19" height="16" fill="#000000"/><rect x="20" y="22" width="4" height="3" fill="#8c8c8c"/><rect x="30" y="22" width="4" height="3" fill="#8c8c8c"/><rect x="26" y="32" width="8" height="5" fill="#808080"/><rect x="64" y="20" width="8" height="6" fill="#999999"/><rect x="75" y="26" width="25" height="7" fill="#333333"/><rect x="108" y="25" width="20" height="7" fill="#404040"/><rect x="150" y="26" width="50" height="6" fill="#4c4c4c"/><rect x="112" y="22" width="6" height="3" fill="#0d0d0d"/><rect x="96" y="20" width="4" height="3" fill="#0d0d0d"/><rect x="-5" y="47" width="237" height="9" fill="#8c8c8c"/><rect x="20" y="46" width="40" height="5" fill="#000000"/><rect x="60" y="45" width="50" height="4" fill="#000000"/><rect x="19" y="54" width="9" height="3" fill="#0d0d0d"/><rect x="63" y="54.5" width="32" height="2.0" fill="#1a1a1a"/><rect x="125" y="54" width="19" height="3" fill="#0d0d0d"/><rect x="152" y="54" width="5" height="2.5" fill="#0d0d0d"/><rect x="170" y="54" width="5" height="2.5" fill="#0d0d0d"/><rect x="204" y="53" width="11" height="4" fill="#0d0d0d"/><rect x="198" y="49" width="5" height="4" fill="#1a1a1a"/><rect x="-5" y="56" width="237" height="14" fill="#a8a8a8"/><rect x="-5" y="68" width="55" height="14" fill="#b8b8b8"/><rect x="47" y="71" width="185" height="6.5" fill="#000000"/><rect x="190" y="70" width="42" height="10" fill="#000000"/><rect x="0" y="71" width="17" height="2" fill="#1a1a1a"/><rect x="30" y="72" width="10" height="2" fill="#262626"/><rect x="47" y="78" width="63" height="4" fill="#595959"/><rect x="-5" y="80" width="237" height="21" fill="#d1d1d1"/><rect x="-5" y="91" width="237" height="3" fill="#adadad"/><rect x="-5" y="101" width="237" height="18" fill="#808080"/><rect x="93" y="109" width="139" height="7.5" fill="#000000"/><rect x="95" y="105" width="11" height="5" fill="#0d0d0d"/><rect x="120" y="104" width="20" height="6" fill="#0d0d0d"/><rect x="150" y="104" width="6" height="4" fill="#0d0d0d"/><rect x="176" y="104" width="6" height="4" fill="#0d0d0d"/><rect x="190" y="104" width="6" height="4" fill="#0d0d0d"/><rect x="100" y="116" width="6" height="5" fill="#0d0d0d"/><rect x="170" y="109" width="62" height="10" fill="#000000"/><rect x="-5" y="119" width="237" height="16" fill="#c2c2c2"/><rect x="-5" y="135" width="237" height="15" fill="#808080"/><rect x="191" y="135.5" width="41" height="3.5" fill="#0d0d0d"/><rect x="-5" y="150" width="237" height="4" fill="#cccccc"/><rect x="0" y="184" width="232" height="17" fill="#e3e3e3"/><rect x="50" y="186" width="150" height="13" fill="#c9c9c9"/><rect x="130" y="190" width="8" height="4" fill="#1a1a1a"/><rect x="0" y="223" width="120" height="12" fill="#f7f7f7"/><rect x="0" y="281" width="232" height="12" fill="#f7f7f7"/><rect x="0" y="350" width="232" height="90" fill="#ededed"/><rect x="206" y="330" width="20" height="20" fill="#cccccc"/><rect x="87" y="420" width="139" height="8" fill="#ababab"/><rect x="40" y="360" width="100" height="12" fill="#d4d4d4"/><rect x="94" y="378" width="7" height="7" fill="#333333"/><rect x="45" y="378" width="6" height="6" fill="#808080"/><rect x="190" y="416" width="9" height="8" fill="#737373"/><rect x="214" y="412" width="8" height="8" fill="#808080"/><rect x="96" y="340" width="4" height="60" fill="#c4c4c4"/><rect x="60" y="350" width="4" height="45" fill="#d4d4d4"/><rect x="140" y="355" width="4" height="45" fill="#d4d4d4"/><rect x="160" y="360" width="4" height="50" fill="#cccccc"/><rect x="205" y="350" width="4" height="60" fill="#cccccc"/><rect x="30" y="395" width="50" height="15" fill="#c4c4c4"/><rect x="100" y="398" width="80" height="12" fill="#d9d9d9"/><rect x="15" y="462" width="94" height="17" fill="#d4d4d4"/><rect x="30" y="465" width="8" height="6" fill="#595959"/><rect x="143" y="464" width="42" height="14" fill="#e6e6e6"/><rect x="11" y="520" width="8" height="10" fill="#e6e6e6"/><rect x="160" y="538" width="17" height="8" fill="#d9d9d9"/><rect x="208" y="538" width="6" height="8" fill="#e6e6e6"/><rect x="113" y="630" width="38" height="20" fill="#cccccc"/><rect x="211" y="640" width="21" height="12" fill="#cccccc"/><rect x="66" y="647" width="21" height="8" fill="#e6e6e6"/><rect x="0" y="625" width="232" height="30" fill="#f2f2f2"/><rect x="0" y="679" width="232" height="21" fill="#f2f2f2"/><rect x="11" y="685" width="29" height="15" fill="#a6a6a6"/><rect x="34" y="695" width="6" height="6" fill="#404040"/><rect x="109" y="683" width="51" height="14" fill="#d9d9d9"/><rect x="15" y="730" width="30" height="13" fill="#e8e8e8"/><rect x="0" y="777" width="232" height="21" fill="#f2f2f2"/><rect x="168" y="780" width="43" height="15" fill="#b3b3b3"/><rect x="0" y="780" width="20" height="15" fill="#cccccc"/><rect x="25" y="807" width="13" height="29" fill="#a6a6a6"/><rect x="26" y="816" width="5" height="8" fill="#404040"/><rect x="53" y="823" width="4" height="4" fill="#666666"/><rect x="100" y="806" width="132" height="6" fill="#e6e6e6"/><rect x="83" y="888" width="17" height="21" fill="#8c8c8c"/><rect x="70" y="880" width="50" height="32" fill="#e6e6e6"/><rect x="0" y="920" width="232" height="27" fill="#f2f2f2"/><rect x="15" y="926" width="45" height="19" fill="#d9d9d9"/><rect x="140" y="926" width="30" height="19" fill="#d9d9d9"/><rect x="0" y="947.5" width="232" height="12.5" fill="#000000"/><rect x="76" y="942" width="7" height="6" fill="#0d0d0d"/></g></svg>
<svg style="position:absolute;left:1775px;top:144px" width="228" height="954" viewBox="0 0 228 954" shape-rendering="crispEdges"><rect x="0" y="0" width="228" height="954" fill="#00a608"/><rect x="0" y="0" width="228" height="157" fill="#9e0000"/><rect x="0" y="948.5" width="228" height="6" fill="#9e0000"/><path d="M8 157h4v6h-4zM38 186h4v9h-4zM55 190h8v2h-8zM54 192h10v2h-10zM54 194h10v2h-10zM53 196h9v2h-9zM95 189h8v6h-8zM120 185h12v2h-12zM118 187h13v2h-13zM115 189h18v2h-18zM115 191h20v2h-20zM114 193h19v2h-19zM114 195h21v2h-21zM119 197h10v2h-10zM138 184h30v2h-30zM130 186h44v2h-44zM127 188h54v2h-54zM127 190h49v2h-49zM141 192h39v2h-39zM151 183h29v2h-29zM150 185h31v2h-31zM149 187h32v2h-32zM152 189h29v2h-29zM157 191h18v2h-18zM152 203h9v4h-9zM200 184h12v4h-12zM223 183h5v6h-5zM187 348h7v3h-7zM204 346h10v2h-10zM203 348h12v2h-12zM203 350h14v2h-14zM203 352h11v2h-11zM219 336h1v7h-1zM3 361h7v2h-7zM22 357h3v4h-3zM33 356h6v3h-6zM86 356h9v2h-9zM86 358h10v2h-10zM84 360h12v2h-12zM86 362h9v2h-9zM88 364h5v2h-5zM104 359h8v2h-8zM102 361h12v2h-12zM102 363h10v2h-10zM103 365h5v2h-5zM136 356h4v11h-4zM46 374h7v2h-7zM46 376h7v2h-7zM47 378h7v2h-7zM45 380h7v2h-7zM46 382h8v2h-8zM45 384h9v2h-9zM46 386h7v2h-7zM45 388h8v2h-8zM46 390h6v2h-6zM48 392h5v2h-5zM35 384h4v4h-4zM28 392h6v6h-6zM63 382h15v2h-15zM63 384h14v2h-14zM61 386h17v2h-17zM60 388h17v2h-17zM62 390h18v2h-18zM60 392h16v2h-16zM65 394h14v2h-14zM63 396h12v2h-12zM67 398h9v2h-9zM74 398h6v18h-6zM94 369h14v2h-14zM90 371h22v2h-22zM89 373h21v2h-21zM93 375h15v2h-15zM92 377h21v2h-21zM91 379h22v2h-22zM89 381h23v2h-23zM89 383h24v2h-24zM89 385h23v2h-23zM93 387h20v2h-20zM93 389h19v2h-19zM90 391h23v2h-23zM90 393h20v2h-20zM90 395h19v2h-19zM91 397h22v2h-22zM95 399h15v2h-15zM94 401h14v2h-14zM93 403h13v2h-13zM86 378h8v2h-8zM84 380h11v2h-11zM85 382h11v2h-11zM84 384h11v2h-11zM84 386h12v2h-12zM84 388h10v2h-10zM87 390h6v2h-6zM114 378h14v2h-14zM114 380h13v2h-13zM111 382h17v2h-17zM111 384h18v2h-18zM111 386h18v2h-18zM112 388h17v2h-17zM111 390h18v2h-18zM113 392h16v2h-16zM112 394h17v2h-17zM116 396h11v2h-11zM118 398h9v2h-9zM123 370h6v2h-6zM121 372h9v2h-9zM123 374h7v2h-7zM122 376h9v2h-9zM122 378h8v2h-8zM122 380h8v2h-8zM122 382h8v2h-8zM122 384h8v2h-8zM123 386h6v2h-6zM123 388h4v2h-4zM101 399h6v6h-6zM117 399h8v6h-8zM129 397h8v5h-8zM153 369h6v36h-6zM156 400h22v5h-22zM167 378h7v2h-7zM166 380h9v2h-9zM166 382h7v2h-7zM166 384h9v2h-9zM165 386h9v2h-9zM165 388h9v2h-9zM165 390h9v2h-9zM166 392h9v2h-9zM166 394h9v2h-9zM166 396h10v2h-10zM166 398h7v2h-7zM174 400h5v12h-5zM166 369h3v9h-3zM200 384h8v2h-8zM198 386h13v2h-13zM198 388h10v2h-10zM199 390h10v2h-10zM199 392h11v2h-11zM199 394h12v2h-12zM201 396h8v2h-8zM202 398h7v2h-7zM219 383h4v11h-4zM191 401h6v4h-6zM88 424h27v5h-27zM117 413h12v2h-12zM116 415h17v2h-17zM118 417h17v2h-17zM115 419h19v2h-19zM117 421h15v2h-15zM114 423h20v2h-20zM117 425h14v2h-14zM118 427h15v2h-15zM135 422h15v2h-15zM133 424h18v2h-18zM136 426h15v2h-15zM139 428h12v2h-12zM160 423h26v2h-26zM160 425h32v2h-32zM155 427h34v2h-34zM166 429h19v2h-19zM190 415h18v2h-18zM187 417h24v2h-24zM188 419h22v2h-22zM189 421h23v2h-23zM187 423h26v2h-26zM187 425h26v2h-26zM190 427h20v2h-20zM187 429h20v2h-20zM195 431h12v2h-12zM196 433h8v2h-8zM215 414h11v2h-11zM214 416h11v2h-11zM213 418h14v2h-14zM211 420h16v2h-16zM210 422h18v2h-18zM211 424h17v2h-17zM213 426h16v2h-16zM210 428h15v2h-15zM214 430h14v2h-14zM218 432h5v2h-5zM21 423h6v6h-6zM63 415h5v15h-5zM76 419h4v7h-4zM96 415h5v15h-5zM23 464h17v2h-17zM23 466h18v2h-18zM24 468h18v2h-18zM23 470h19v2h-19zM24 472h16v2h-16zM28 474h8v2h-8zM50 466h5v9h-5zM75 464h3v4h-3zM96 464h6v4h-6zM7 476h6v4h-6zM149 472h7v2h-7zM147 474h9v2h-9zM148 476h8v2h-8zM147 478h10v2h-10zM149 480h6v2h-6zM148 482h7v2h-7zM149 484h5v2h-5zM162 476h14v3h-14zM159 543h5v5h-5zM116 634h6v9h-6zM141 628h11v2h-11zM142 630h10v2h-10zM139 632h15v2h-15zM141 634h12v2h-12zM140 636h13v2h-13zM146 638h5v2h-5zM140 638h6v16h-6zM125 640h4v3h-4zM69 650h8v4h-8zM136 650h3v3h-3zM186 650h5v3h-5zM211 646h9v6h-9zM174 634h4v5h-4zM12 681h7v2h-7zM11 683h9v2h-9zM9 685h14v2h-14zM9 687h11v2h-11zM8 689h15v2h-15zM8 691h15v2h-15zM8 693h13v2h-13zM9 695h11v2h-11zM8 697h13v2h-13zM9 699h10v2h-10zM12 701h7v2h-7zM20 690h13v5h-13zM35 683h6v2h-6zM32 685h11v2h-11zM32 687h13v2h-13zM33 689h12v2h-12zM30 691h16v2h-16zM30 693h16v2h-16zM30 695h16v2h-16zM31 697h15v2h-15zM30 699h15v2h-15zM31 701h14v2h-14zM33 703h8v2h-8zM152 682h6v6h-6zM144 686h4v3h-4zM204 690h7v7h-7zM31 731h5v2h-5zM31 736h5v3h-5zM1 771h9v2h-9zM2 773h8v2h-8zM2 775h11v2h-11zM-1 777h14v2h-14zM-1 779h12v2h-12zM0 781h12v2h-12zM1 783h12v2h-12zM-1 785h15v2h-15zM-1 787h15v2h-15zM-1 789h13v2h-13zM1 791h13v2h-13zM-1 793h13v2h-13zM2 795h12v2h-12zM2 797h10v2h-10zM1 799h10v2h-10zM0 801h11v2h-11zM2 803h8v2h-8zM3 805h6v2h-6zM4 784h11v2h-11zM2 786h14v2h-14zM2 788h16v2h-16zM-0 790h18v2h-18zM1 792h16v2h-16zM-1 794h16v2h-16zM-0 796h14v2h-14zM5 798h9v2h-9zM20 786h8v5h-8zM59 791h7v2h-7zM57 793h13v2h-13zM58 795h11v2h-11zM59 797h6v2h-6zM59 798h5v7h-5zM168 784h6v2h-6zM168 786h7v2h-7zM169 788h6v2h-6zM168 790h6v2h-6zM199 785h9v2h-9zM199 787h11v2h-11zM198 789h14v2h-14zM198 791h14v2h-14zM199 793h13v2h-13zM198 795h13v2h-13zM198 797h13v2h-13zM199 799h12v2h-12zM201 801h6v2h-6zM188 793h7v2h-7zM188 795h8v2h-8zM188 797h10v2h-10zM190 799h5v2h-5zM127 803h6v8h-6zM46 804h5v5h-5zM0 818h6v4h-6zM27 805h10v2h-10zM27 807h13v2h-13zM23 809h15v2h-15zM25 811h17v2h-17zM25 813h16v2h-16zM26 815h13v2h-13zM23 817h19v2h-19zM23 819h16v2h-16zM23 821h19v2h-19zM23 823h17v2h-17zM23 825h16v2h-16zM26 827h15v2h-15zM26 829h12v2h-12zM23 831h15v2h-15zM25 833h12v2h-12zM25 835h13v2h-13zM26 837h8v2h-8zM12 831h13v2h-13zM12 833h13v2h-13zM12 835h13v2h-13zM12 837h13v2h-13zM12 839h14v2h-14zM14 841h11v2h-11zM15 843h7v2h-7zM14 845h7v2h-7zM55 814h7v2h-7zM54 816h9v2h-9zM54 818h10v2h-10zM53 820h10v2h-10zM55 822h7v2h-7zM54 824h8v2h-8zM56 826h6v2h-6zM86 890h11v2h-11zM80 892h18v2h-18zM80 894h19v2h-19zM80 896h23v2h-23zM80 898h20v2h-20zM82 900h19v2h-19zM80 902h21v2h-21zM81 904h19v2h-19zM82 906h18v2h-18zM86 908h13v2h-13zM83 879h4v13h-4zM51 888h9v2h-9zM49 890h12v2h-12zM47 892h14v2h-14zM49 894h13v2h-13zM50 896h10v2h-10zM49 902h9v6h-9zM24 890h6v6h-6zM45 914h5v3h-5zM44 926h4v8h-4zM20 911h7v13h-7zM12 919h10v2h-10zM12 921h9v2h-9zM10 923h11v2h-11zM10 925h13v2h-13zM10 927h12v2h-12zM12 929h12v2h-12zM10 931h12v2h-12zM10 933h13v2h-13zM12 935h13v2h-13zM11 937h12v2h-12zM11 939h12v2h-12zM11 941h11v2h-11zM12 943h12v2h-12zM13 945h7v2h-7zM13 947h7v2h-7zM15 939h28v2h-28zM13 941h35v2h-35zM7 943h39v2h-39zM13 945h34v2h-34zM11 947h31v2h-31zM79 936h31v2h-31zM72 938h39v2h-39zM71 940h35v2h-35zM74 942h37v2h-37zM70 944h41v2h-41zM70 946h38v2h-38zM79 948h27v2h-27zM71 933h7v2h-7zM70 935h9v2h-9zM71 937h8v2h-8zM74 939h4v2h-4zM82 931h6v2h-6zM83 933h8v2h-8zM83 935h8v2h-8zM82 937h7v2h-7zM85 939h4v2h-4zM99 931h8v2h-8zM98 933h12v2h-12zM100 935h8v2h-8zM100 937h8v2h-8zM102 939h6v2h-6zM62 939h5v7h-5zM126 939h18v2h-18zM122 941h19v2h-19zM122 943h24v2h-24zM122 945h22v2h-22zM124 947h16v2h-16zM129 949h7v2h-7zM148 940h15v2h-15zM146 942h19v2h-19zM148 944h17v2h-17zM148 946h16v2h-16zM151 948h11v2h-11zM151 928h6v14h-6zM157 933h6v2h-6zM157 935h7v2h-7zM155 937h8v2h-8zM155 939h9v2h-9zM156 941h9v2h-9zM156 943h7v2h-7zM157 945h6v2h-6zM158 947h4v2h-4zM166 929h3v2h-3zM194 938h3v2h-3zM111 889h2v2h-2zM116 938h2v2h-2zM63 878h6v3h-6zM6 811h3v2h-3zM16 811h3v4h-3zM128 692h8v2h-8zM120 787h3v2h-3z" fill="#9e0000"/></svg>
<svg style="position:absolute;left:2010px;top:144px" width="228" height="954" viewBox="0 0 228 954"><g filter="url(#fbwr)"><rect x="-30" y="-30" width="290" height="1020" fill="#808080"/><ellipse cx="113.5" cy="171.5" rx="97.6" ry="5.9" fill="#686868"/><rect x="80" y="212" width="147" height="70" fill="#636363"/><rect x="0" y="212" width="80" height="70" fill="#797979"/><rect x="0" y="300" width="227" height="30" fill="#707070"/><ellipse cx="204.0" cy="416.0" rx="19.8" ry="19.8" fill="#464646"/><ellipse cx="203.5" cy="581.0" rx="19.4" ry="12.6" fill="#525252"/><ellipse cx="118.0" cy="532.5" rx="13.8" ry="7.7" fill="#5d5d5d"/><ellipse cx="218.5" cy="507.0" rx="7.3" ry="17.1" fill="#575757"/><rect x="0" y="636" width="227" height="64" fill="#5c5c5c"/><rect x="60" y="700" width="167" height="62" fill="#606060"/><rect x="110" y="750" width="117" height="68" fill="#636363"/><ellipse cx="163.5" cy="825.0" rx="54.6" ry="9.9" fill="#333333"/><rect x="100" y="820" width="127" height="140" fill="#2b2b2b"/><ellipse cx="162.5" cy="857.0" rx="19.4" ry="17.1" fill="#464646"/><ellipse cx="30.0" cy="187.0" rx="12.0" ry="9.9" fill="#b6b6b6"/><ellipse cx="60.5" cy="189.0" rx="11.6" ry="8.1" fill="#b6b6b6"/><ellipse cx="107.0" cy="179.0" rx="4.3" ry="4.5" fill="#a5a5a5"/><ellipse cx="135.5" cy="183.0" rx="5.6" ry="3.6" fill="#a0a0a0"/><ellipse cx="164.5" cy="180.0" rx="4.7" ry="3.6" fill="#9b9b9b"/><ellipse cx="11.5" cy="205.0" rx="9.0" ry="6.3" fill="#444444"/><ellipse cx="90.0" cy="200.0" rx="13.8" ry="10.8" fill="#494949"/><ellipse cx="155.5" cy="196.5" rx="8.1" ry="9.2" fill="#000000"/><ellipse cx="194.0" cy="206.0" rx="7.6" ry="7.8" fill="#000000"/><ellipse cx="182.0" cy="193.5" rx="6.9" ry="5.9" fill="#3e3e3e"/><ellipse cx="215.5" cy="190.0" rx="9.0" ry="9.0" fill="#494949"/><ellipse cx="210.5" cy="207.5" rx="4.7" ry="4.0" fill="#808080"/><ellipse cx="34.0" cy="235.0" rx="5.2" ry="10.8" fill="#a0a0a0"/><ellipse cx="62.5" cy="234.0" rx="6.5" ry="11.7" fill="#a5a5a5"/><ellipse cx="80.5" cy="234.5" rx="3.0" ry="5.0" fill="#9b9b9b"/><ellipse cx="143.0" cy="235.5" rx="3.4" ry="5.9" fill="#a0a0a0"/><ellipse cx="2.5" cy="234.0" rx="2.5" ry="5.4" fill="#a0a0a0"/><ellipse cx="118.5" cy="280.0" rx="27.1" ry="7.2" fill="#494949"/><ellipse cx="129.0" cy="282.0" rx="10.4" ry="7.8" fill="#181818"/><ellipse cx="166.0" cy="287.5" rx="6.9" ry="5.9" fill="#444444"/><ellipse cx="206.0" cy="288.0" rx="17.2" ry="19.8" fill="#5a5a5a"/><ellipse cx="20.5" cy="294.0" rx="10.8" ry="7.2" fill="#a5a5a5"/><ellipse cx="57.5" cy="303.5" rx="7.3" ry="11.2" fill="#9b9b9b"/><ellipse cx="74.5" cy="292.0" rx="4.7" ry="6.3" fill="#b6b6b6"/><ellipse cx="98.0" cy="292.0" rx="4.3" ry="3.6" fill="#a5a5a5"/><ellipse cx="153.0" cy="302.5" rx="5.2" ry="7.7" fill="#9b9b9b"/><ellipse cx="29.5" cy="309.5" rx="15.0" ry="5.9" fill="#5a5a5a"/><ellipse cx="102.5" cy="306.5" rx="13.3" ry="5.9" fill="#5f5f5f"/><ellipse cx="13.5" cy="341.5" rx="9.0" ry="8.6" fill="#4c4c4c"/><ellipse cx="54.0" cy="342.0" rx="6.9" ry="12.6" fill="#4c4c4c"/><ellipse cx="142.0" cy="334.5" rx="6.9" ry="8.6" fill="#535353"/><ellipse cx="149.5" cy="350.0" rx="5.6" ry="7.2" fill="#b9b9b9"/><ellipse cx="207.0" cy="340.5" rx="16.3" ry="11.2" fill="#9c9c9c"/><ellipse cx="6.0" cy="370.0" rx="5.2" ry="13.5" fill="#b2b2b2"/><ellipse cx="72.5" cy="361.0" rx="3.9" ry="7.2" fill="#cccccc"/><ellipse cx="91.5" cy="358.0" rx="4.3" ry="7.8" fill="#101010"/><ellipse cx="109.0" cy="364.0" rx="4.8" ry="13.6" fill="#101010"/><ellipse cx="184.0" cy="355.5" rx="8.5" ry="13.1" fill="#000000"/><ellipse cx="164.0" cy="381.5" rx="5.7" ry="9.2" fill="#000000"/><ellipse cx="206.5" cy="387.0" rx="4.3" ry="6.8" fill="#000000"/><ellipse cx="214.0" cy="359.5" rx="3.8" ry="4.4" fill="#101010"/><ellipse cx="34.5" cy="383.0" rx="6.2" ry="7.8" fill="#ffffff"/><ellipse cx="8.5" cy="409.5" rx="8.1" ry="12.1" fill="#ffffff"/><rect x="68" y="380" width="121" height="56" fill="#a6a6a6"/><ellipse cx="75.5" cy="395.0" rx="4.3" ry="14.5" fill="#ffffff"/><ellipse cx="90.5" cy="400.5" rx="5.2" ry="12.1" fill="#ffffff"/><ellipse cx="108.0" cy="405.0" rx="5.7" ry="16.5" fill="#ffffff"/><ellipse cx="132.5" cy="411.5" rx="6.2" ry="22.8" fill="#ffffff"/><ellipse cx="146.5" cy="416.0" rx="4.3" ry="15.5" fill="#ffffff"/><ellipse cx="166.0" cy="418.0" rx="7.6" ry="13.6" fill="#ffffff"/><ellipse cx="116.5" cy="426.5" rx="9.0" ry="11.2" fill="#ffffff"/><ellipse cx="100.5" cy="421.0" rx="5.2" ry="10.7" fill="#ffffff"/><ellipse cx="85.0" cy="446.0" rx="4.8" ry="23.3" fill="#ffffff"/><ellipse cx="102.5" cy="456.5" rx="5.6" ry="12.2" fill="#cccccc"/><ellipse cx="181.0" cy="424.0" rx="6.0" ry="9.9" fill="#cccccc"/><ellipse cx="62.0" cy="387.5" rx="3.4" ry="5.9" fill="#cccccc"/><ellipse cx="120.5" cy="406.5" rx="6.2" ry="11.2" fill="#efefef"/><ellipse cx="94.0" cy="416.5" rx="5.7" ry="8.2" fill="#efefef"/><ellipse cx="24.5" cy="427.5" rx="5.2" ry="6.3" fill="#000000"/><ellipse cx="36.5" cy="428.5" rx="5.2" ry="6.3" fill="#000000"/><ellipse cx="63.5" cy="426.0" rx="5.2" ry="7.8" fill="#000000"/><ellipse cx="224.5" cy="430.0" rx="2.4" ry="7.8" fill="#000000"/><ellipse cx="14.0" cy="468.0" rx="12.3" ry="10.7" fill="#101010"/><ellipse cx="149.0" cy="445.5" rx="8.6" ry="7.7" fill="#404040"/><ellipse cx="63.0" cy="465.0" rx="9.5" ry="7.2" fill="#464646"/><ellipse cx="120.0" cy="465.0" rx="4.3" ry="5.4" fill="#404040"/><ellipse cx="191.0" cy="451.5" rx="5.2" ry="5.0" fill="#4c4c4c"/><ellipse cx="218.5" cy="455.0" rx="7.3" ry="8.1" fill="#464646"/><ellipse cx="176.5" cy="459.5" rx="9.0" ry="7.3" fill="#efefef"/><ellipse cx="33.5" cy="476.5" rx="5.2" ry="6.3" fill="#efefef"/><ellipse cx="194.0" cy="476.5" rx="4.3" ry="5.9" fill="#bfbfbf"/><ellipse cx="94.5" cy="475.0" rx="3.9" ry="3.6" fill="#b9b9b9"/><ellipse cx="60.0" cy="492.0" rx="6.9" ry="8.1" fill="#525252"/><ellipse cx="132.5" cy="490.0" rx="9.9" ry="9.9" fill="#525252"/><ellipse cx="185.5" cy="491.0" rx="5.2" ry="9.7" fill="#181818"/><ellipse cx="220.0" cy="497.0" rx="6.0" ry="7.2" fill="#464646"/><ellipse cx="43.0" cy="503.0" rx="12.9" ry="8.1" fill="#a2a2a2"/><ellipse cx="164.0" cy="484.0" rx="12.0" ry="5.4" fill="#a8a8a8"/><ellipse cx="91.5" cy="505.0" rx="9.9" ry="6.3" fill="#a2a2a2"/><ellipse cx="90.0" cy="476.5" rx="11.2" ry="4.0" fill="#b3b3b3"/><ellipse cx="44.0" cy="513.0" rx="14.6" ry="19.8" fill="#a8a8a8"/><ellipse cx="88.0" cy="509.0" rx="9.5" ry="9.0" fill="#adadad"/><ellipse cx="145.0" cy="519.5" rx="12.0" ry="14.0" fill="#a8a8a8"/><ellipse cx="8.0" cy="540.0" rx="6.9" ry="7.2" fill="#adadad"/><ellipse cx="99.0" cy="566.5" rx="16.3" ry="22.9" fill="#a8a8a8"/><ellipse cx="27.0" cy="560.5" rx="2.6" ry="8.6" fill="#a2a2a2"/><ellipse cx="167.0" cy="574.0" rx="6.9" ry="10.8" fill="#9c9c9c"/><ellipse cx="190.5" cy="543.0" rx="8.2" ry="7.2" fill="#969696"/><ellipse cx="24.0" cy="527.0" rx="6.0" ry="9.9" fill="#404040"/><ellipse cx="168.5" cy="539.0" rx="5.6" ry="13.5" fill="#404040"/><ellipse cx="44.0" cy="566.5" rx="9.5" ry="11.2" fill="#404040"/><ellipse cx="67.5" cy="559.0" rx="10.8" ry="9.9" fill="#464646"/><ellipse cx="63.0" cy="574.0" rx="4.8" ry="8.7" fill="#000000"/><ellipse cx="91.0" cy="532.0" rx="3.4" ry="5.4" fill="#464646"/><ellipse cx="148.0" cy="573.0" rx="6.9" ry="11.7" fill="#575757"/><ellipse cx="20.0" cy="611.0" rx="10.4" ry="18.4" fill="#ffffff"/><ellipse cx="42.0" cy="587.0" rx="3.4" ry="4.5" fill="#adadad"/><ellipse cx="97.0" cy="606.0" rx="5.2" ry="7.2" fill="#c4c4c4"/><ellipse cx="193.0" cy="607.0" rx="24.9" ry="6.3" fill="#b3b3b3"/><ellipse cx="140.5" cy="629.5" rx="9.0" ry="5.3" fill="#ffffff"/><ellipse cx="79.0" cy="604.0" rx="9.5" ry="9.0" fill="#5d5d5d"/><ellipse cx="119.0" cy="619.0" rx="7.7" ry="7.2" fill="#525252"/><ellipse cx="167.0" cy="625.0" rx="9.5" ry="7.2" fill="#464646"/><ellipse cx="166.5" cy="652.0" rx="10.0" ry="13.6" fill="#000000"/><ellipse cx="188.0" cy="651.0" rx="7.6" ry="8.7" fill="#000000"/><ellipse cx="138.0" cy="654.5" rx="5.7" ry="8.2" fill="#ffffff"/><ellipse cx="120.5" cy="653.5" rx="4.7" ry="13.1" fill="#c4c4c4"/><ellipse cx="100.0" cy="656.5" rx="3.8" ry="6.3" fill="#efefef"/><ellipse cx="43.5" cy="652.5" rx="4.7" ry="7.7" fill="#b9b9b9"/><ellipse cx="4.5" cy="653.0" rx="3.9" ry="7.2" fill="#b2b2b2"/><ellipse cx="83.5" cy="655.5" rx="3.0" ry="5.0" fill="#b2b2b2"/><ellipse cx="218.0" cy="653.5" rx="3.4" ry="4.0" fill="#b2b2b2"/><ellipse cx="213.5" cy="634.5" rx="4.7" ry="3.1" fill="#9c9c9c"/><ellipse cx="64.5" cy="646.0" rx="6.2" ry="6.8" fill="#000000"/><ellipse cx="19.5" cy="661.0" rx="7.1" ry="10.7" fill="#000000"/><ellipse cx="92.5" cy="642.5" rx="4.7" ry="4.0" fill="#464646"/><ellipse cx="109.5" cy="651.5" rx="4.3" ry="9.2" fill="#101010"/><ellipse cx="14.0" cy="684.0" rx="13.3" ry="18.4" fill="#000000"/><ellipse cx="43.0" cy="681.0" rx="11.4" ry="7.8" fill="#000000"/><ellipse cx="18.0" cy="733.5" rx="12.9" ry="7.7" fill="#333333"/><ellipse cx="43.0" cy="714.0" rx="31.8" ry="11.7" fill="#bfbfbf"/><ellipse cx="54.5" cy="725.0" rx="10.0" ry="16.5" fill="#efefef"/><ellipse cx="71.0" cy="692.5" rx="15.2" ry="8.2" fill="#e7e7e7"/><ellipse cx="135.5" cy="695.5" rx="13.8" ry="9.2" fill="#efefef"/><ellipse cx="168.0" cy="711.0" rx="6.6" ry="10.7" fill="#ffffff"/><ellipse cx="179.0" cy="718.0" rx="6.6" ry="11.6" fill="#ffffff"/><ellipse cx="191.5" cy="709.0" rx="8.1" ry="14.5" fill="#ffffff"/><ellipse cx="196.0" cy="721.0" rx="5.7" ry="8.7" fill="#efefef"/><ellipse cx="184.5" cy="680.0" rx="5.6" ry="10.8" fill="#cccccc"/><ellipse cx="211.0" cy="686.0" rx="5.7" ry="13.6" fill="#efefef"/><ellipse cx="221.0" cy="701.0" rx="5.7" ry="10.7" fill="#ffffff"/><ellipse cx="90.0" cy="709.0" rx="12.3" ry="7.8" fill="#000000"/><ellipse cx="137.5" cy="736.5" rx="11.9" ry="9.2" fill="#000000"/><ellipse cx="89.5" cy="745.5" rx="9.0" ry="4.4" fill="#000000"/><ellipse cx="168.5" cy="735.0" rx="5.6" ry="9.9" fill="#404040"/><ellipse cx="207.0" cy="736.5" rx="16.3" ry="11.2" fill="#404040"/><ellipse cx="120.0" cy="683.5" rx="6.9" ry="5.0" fill="#333333"/><ellipse cx="102.5" cy="731.5" rx="3.0" ry="6.8" fill="#b2b2b2"/><ellipse cx="140.5" cy="769.5" rx="5.6" ry="11.2" fill="#c6c6c6"/><ellipse cx="195.5" cy="764.0" rx="8.2" ry="6.3" fill="#a6a6a6"/><ellipse cx="171.5" cy="796.5" rx="5.2" ry="12.1" fill="#ffffff"/><ellipse cx="191.0" cy="796.5" rx="2.6" ry="5.9" fill="#cccccc"/><ellipse cx="222.5" cy="798.0" rx="3.0" ry="7.2" fill="#c6c6c6"/><ellipse cx="143.5" cy="806.5" rx="5.6" ry="3.1" fill="#a6a6a6"/><ellipse cx="201.5" cy="799.0" rx="5.2" ry="7.8" fill="#000000"/><ellipse cx="161.5" cy="774.0" rx="4.7" ry="7.2" fill="#404040"/><ellipse cx="179.5" cy="774.0" rx="4.7" ry="7.2" fill="#393939"/><ellipse cx="131.0" cy="804.5" rx="2.8" ry="5.3" fill="#101010"/><ellipse cx="220.0" cy="831.0" rx="6.0" ry="4.5" fill="#bfbfbf"/><rect x="0" y="748" width="36" height="212" fill="#000000"/><rect x="0" y="756" width="60" height="204" fill="#000000"/><rect x="0" y="766" width="90" height="194" fill="#000000"/><rect x="0" y="782" width="108" height="178" fill="#000000"/><rect x="0" y="796" width="117" height="164" fill="#000000"/><ellipse cx="129.0" cy="837.5" rx="7.6" ry="10.2" fill="#000000"/><ellipse cx="132.5" cy="884.0" rx="13.8" ry="13.6" fill="#000000"/><ellipse cx="151.5" cy="928.5" rx="13.8" ry="17.0" fill="#000000"/><ellipse cx="202.0" cy="926.0" rx="22.8" ry="19.4" fill="#000000"/><ellipse cx="211.5" cy="883.0" rx="13.8" ry="22.3" fill="#000000"/><ellipse cx="173.5" cy="873.0" rx="6.5" ry="5.4" fill="#808080"/><ellipse cx="130.0" cy="906.0" rx="3.4" ry="7.2" fill="#8c8c8c"/><ellipse cx="148.0" cy="903.0" rx="4.3" ry="5.4" fill="#808080"/><ellipse cx="171.5" cy="901.5" rx="4.7" ry="8.6" fill="#868686"/><ellipse cx="88.0" cy="925.0" rx="4.3" ry="9.9" fill="#737373"/><ellipse cx="98.5" cy="929.5" rx="3.0" ry="5.9" fill="#808080"/><ellipse cx="125.5" cy="933.5" rx="7.3" ry="9.5" fill="#737373"/><ellipse cx="210.5" cy="912.5" rx="4.7" ry="4.0" fill="#797979"/><ellipse cx="214.5" cy="885.5" rx="3.9" ry="5.9" fill="#666666"/><ellipse cx="217.0" cy="833.5" rx="8.6" ry="6.8" fill="#bfbfbf"/><ellipse cx="145.0" cy="806.5" rx="6.9" ry="4.0" fill="#a6a6a6"/><ellipse cx="122.5" cy="814.0" rx="2.5" ry="3.6" fill="#a6a6a6"/><ellipse cx="46.5" cy="790.0" rx="3.0" ry="9.0" fill="#333333"/><ellipse cx="72.5" cy="904.0" rx="3.0" ry="6.3" fill="#333333"/><ellipse cx="45.5" cy="938.0" rx="2.5" ry="7.2" fill="#595959"/></g><rect x="0" y="0" width="228" height="173" fill="url(#topfade)"/><rect x="0" y="205" width="228" height="90" fill="url(#pale1)"/><path d="M0 954 L0 948 L8 947 L12 942 L14 940 L14.5 919 L17 919 L17.5 940 L21 942 L22 947 L30 948 L30 941 L36 939 L43 940 L45 930 L48 938 L50 948 L72 948 L72 936 L76 933 L80 937 L86 936 L87 948 L89 948 L89 938 L96 936 L100 932 L108 934 L108 944 L112 946 L118 943 L123 948 L124 940 L130 938 L140 939 L144 936 L152 938 L154 930 L160 930 L162 940 L163 947 L190 947 L196 944 L228 945 L228 954 Z" fill="#fefdfe"/></svg>
<svg style="position:absolute;left:0;top:0" width="2346" height="1267" viewBox="0 0 2346 1267">
<path d="M1287.5 143.2H1514.5M1287.5 143.2v-13M1514.5 143.2v-13M1294.5 143.2v-6M1317.0 143.2v-11M1339.5 143.2v-6M1361.9 143.2v-6M1384.3 143.2v-6M1406.8 143.2v-6M1429.2 143.2v-11M1451.7 143.2v-6M1474.2 143.2v-6M1496.6 143.2v-6" stroke="#333" stroke-width="1.6" fill="none"/>
<path d="M1287.5 143.2V1097.9" stroke="#333" stroke-width="1.5" fill="none"/>
<path d="M1514.8 143.2V1097.9" stroke="#222" stroke-width="1.6" fill="none"/>
<path d="M1287.5 1098.4H1514.5" stroke="#111" stroke-width="2"/>
<path d="M1293.5 1098.1000000000001H1514.5" stroke="#fff" stroke-width="1.2" stroke-dasharray="7 3.5" opacity=".85"/>
<path d="M1540 143.2H1767.5M1540 143.2v-13M1767.5 143.2v-13M1546.8 143.2v-6M1558.0 143.2v-6M1569.3 143.2v-11M1580.6 143.2v-6M1591.8 143.2v-6M1603.1 143.2v-6M1614.4 143.2v-6M1625.6 143.2v-11M1636.9 143.2v-6M1648.2 143.2v-6M1659.5 143.2v-6M1670.7 143.2v-6M1682.0 143.2v-11M1693.3 143.2v-6M1704.5 143.2v-6M1715.8 143.2v-6M1727.1 143.2v-6M1738.3 143.2v-11M1749.6 143.2v-6M1760.9 143.2v-6" stroke="#333" stroke-width="1.6" fill="none"/>
<path d="M1767.8 143.2V1097.9" stroke="#222" stroke-width="1.6" fill="none"/>
<path d="M1540 1098.4H1767.5" stroke="#111" stroke-width="2"/>
<path d="M1775 143.2H2003M1775 143.2v-13M2003 143.2v-13M1782.0 143.2v-6M1804.5 143.2v-11M1827.0 143.2v-6M1849.4 143.2v-6M1871.8 143.2v-6M1894.3 143.2v-6M1916.8 143.2v-11M1939.2 143.2v-6M1961.7 143.2v-6M1984.1 143.2v-6" stroke="#333" stroke-width="1.6" fill="none"/>
<path d="M2003.3 143.2V1097.9" stroke="#222" stroke-width="1.6" fill="none"/>
<path d="M1775 1098.4H2003" stroke="#111" stroke-width="2"/>
<path d="M2010 143.2H2238M2010 143.2v-13M2238 143.2v-13M2017.0 143.2v-6M2039.5 143.2v-11M2061.9 143.2v-6M2084.4 143.2v-6M2106.8 143.2v-6M2129.3 143.2v-6M2151.8 143.2v-11M2174.2 143.2v-6M2196.7 143.2v-6M2219.1 143.2v-6" stroke="#333" stroke-width="1.6" fill="none"/>
<path d="M2238.3 143.2V1097.9" stroke="#222" stroke-width="1.6" fill="none"/>
<path d="M2010 1098.4H2238" stroke="#111" stroke-width="2"/>
<path d="M2016 1098.1000000000001H2238" stroke="#fff" stroke-width="1.2" stroke-dasharray="7 3.5" opacity=".85"/>
<path d="M1287.5 143.2h-13M2238 143.2h13M1287.5 175.0h-6M2238 175.0h6M1287.5 206.8h-6M2238 206.8h6M1287.5 238.7h-6M2238 238.7h6M1287.5 270.5h-6M2238 270.5h6M1287.5 302.3h-13M2238 302.3h13M1287.5 334.1h-6M2238 334.1h6M1287.5 366.0h-6M2238 366.0h6M1287.5 397.8h-6M2238 397.8h6M1287.5 429.6h-6M2238 429.6h6M1287.5 461.4h-13M2238 461.4h13M1287.5 493.3h-6M2238 493.3h6M1287.5 525.1h-6M2238 525.1h6M1287.5 556.9h-6M2238 556.9h6M1287.5 588.7h-6M2238 588.7h6M1287.5 620.5h-13M2238 620.5h13M1287.5 652.4h-6M2238 652.4h6M1287.5 684.2h-6M2238 684.2h6M1287.5 716.0h-6M2238 716.0h6M1287.5 747.8h-6M2238 747.8h6M1287.5 779.7h-13M2238 779.7h13M1287.5 811.5h-6M2238 811.5h6M1287.5 843.3h-6M2238 843.3h6M1287.5 875.1h-6M2238 875.1h6M1287.5 907.0h-6M2238 907.0h6M1287.5 938.8h-13M2238 938.8h13M1287.5 970.6h-6M2238 970.6h6M1287.5 1002.4h-6M2238 1002.4h6M1287.5 1034.3h-6M2238 1034.3h6M1287.5 1066.1h-6M2238 1066.1h6M1287.5 1097.9h-13M2238 1097.9h13" stroke="#333" stroke-width="1.5" fill="none"/>
<path d="M1287.5 302.3H1514.5M1540 302.3H1767.5M1775 302.3H2003M2010 302.3H2238M1287.5 461.4H1514.5M1540 461.4H1767.5M1775 461.4H2003M2010 461.4H2238M1287.5 620.5H1514.5M1540 620.5H1767.5M1775 620.5H2003M2010 620.5H2238M1287.5 779.7H1514.5M1540 779.7H1767.5M1775 779.7H2003M2010 779.7H2238M1287.5 938.8H1514.5M1540 938.8H1767.5M1775 938.8H2003M2010 938.8H2238" stroke="#222" stroke-width="1.5" stroke-dasharray="3.5 7" fill="none" opacity=".9"/>
</svg>
<div style="position:absolute;top:83.91px;line-height:21px;font-size:15px;font-family:'DejaVu Sans',sans-serif;color:#111;white-space:nowrap;font-weight:bold;left:1191px;">Input Volume</div>
<div style="position:absolute;top:83.91px;line-height:21px;font-size:15px;font-family:'DejaVu Sans',sans-serif;color:#111;white-space:nowrap;font-weight:bold;left:1540px;">Second Input Volume</div>
<div style="position:absolute;top:83.91px;line-height:21px;font-size:15px;font-family:'DejaVu Sans',sans-serif;color:#111;white-space:nowrap;font-weight:bold;left:1775px;">Mask</div>
<div style="position:absolute;top:83.91px;line-height:21px;font-size:15px;font-family:'DejaVu Sans',sans-serif;color:#111;white-space:nowrap;font-weight:bold;left:2010px;">Interpolated output</div>
<div style="position:absolute;top:111.11px;line-height:21px;font-size:15px;font-family:'DejaVu Sans',sans-serif;color:#1a1a1a;white-space:nowrap;left:1316.0px;transform:translateX(-50%);">1900</div>
<div style="position:absolute;top:111.11px;line-height:21px;font-size:15px;font-family:'DejaVu Sans',sans-serif;color:#1a1a1a;white-space:nowrap;left:1428.8px;transform:translateX(-50%);">2000</div>
<div style="position:absolute;top:111.11px;line-height:21px;font-size:15px;font-family:'DejaVu Sans',sans-serif;color:#1a1a1a;white-space:nowrap;left:1568.5px;transform:translateX(-50%);">1900</div>
<div style="position:absolute;top:111.11px;line-height:21px;font-size:15px;font-family:'DejaVu Sans',sans-serif;color:#1a1a1a;white-space:nowrap;left:1624.85px;transform:translateX(-50%);">1950</div>
<div style="position:absolute;top:111.11px;line-height:21px;font-size:15px;font-family:'DejaVu Sans',sans-serif;color:#1a1a1a;white-space:nowrap;left:1681.2px;transform:translateX(-50%);">2000</div>
<div style="position:absolute;top:111.11px;line-height:21px;font-size:15px;font-family:'DejaVu Sans',sans-serif;color:#1a1a1a;white-space:nowrap;left:1737.55px;transform:translateX(-50%);">2050</div>
<div style="position:absolute;top:111.11px;line-height:21px;font-size:15px;font-family:'DejaVu Sans',sans-serif;color:#1a1a1a;white-space:nowrap;left:1803.5px;transform:translateX(-50%);">1900</div>
<div style="position:absolute;top:111.11px;line-height:21px;font-size:15px;font-family:'DejaVu Sans',sans-serif;color:#1a1a1a;white-space:nowrap;left:1916.3px;transform:translateX(-50%);">2000</div>
<div style="position:absolute;top:111.11px;line-height:21px;font-size:15px;font-family:'DejaVu Sans',sans-serif;color:#1a1a1a;white-space:nowrap;left:2038.5px;transform:translateX(-50%);">1900</div>
<div style="position:absolute;top:111.11px;line-height:21px;font-size:15px;font-family:'DejaVu Sans',sans-serif;color:#1a1a1a;white-space:nowrap;left:2151.3px;transform:translateX(-50%);">2000</div>
<div style="position:absolute;top:141.31px;line-height:21px;font-size:15px;font-family:'DejaVu Sans',sans-serif;color:#1a1a1a;white-space:nowrap;left:1269.5px;transform:translateX(-100%);">0</div>
<div style="position:absolute;top:141.31px;line-height:21px;font-size:15px;font-family:'DejaVu Sans',sans-serif;color:#1a1a1a;white-space:nowrap;left:2254.5px;">0</div>
<div style="position:absolute;top:293.13px;line-height:21px;font-size:15px;font-family:'DejaVu Sans',sans-serif;color:#1a1a1a;white-space:nowrap;left:1269.5px;transform:translateX(-100%);">500</div>
<div style="position:absolute;top:293.13px;line-height:21px;font-size:15px;font-family:'DejaVu Sans',sans-serif;color:#1a1a1a;white-space:nowrap;left:2254.5px;">500</div>
<div style="position:absolute;top:452.24px;line-height:21px;font-size:15px;font-family:'DejaVu Sans',sans-serif;color:#1a1a1a;white-space:nowrap;left:1269.5px;transform:translateX(-100%);">1000</div>
<div style="position:absolute;top:452.24px;line-height:21px;font-size:15px;font-family:'DejaVu Sans',sans-serif;color:#1a1a1a;white-space:nowrap;left:2254.5px;">1000</div>
<div style="position:absolute;top:611.36px;line-height:21px;font-size:15px;font-family:'DejaVu Sans',sans-serif;color:#1a1a1a;white-space:nowrap;left:1269.5px;transform:translateX(-100%);">1500</div>
<div style="position:absolute;top:611.36px;line-height:21px;font-size:15px;font-family:'DejaVu Sans',sans-serif;color:#1a1a1a;white-space:nowrap;left:2254.5px;">1500</div>
<div style="position:absolute;top:770.48px;line-height:21px;font-size:15px;font-family:'DejaVu Sans',sans-serif;color:#1a1a1a;white-space:nowrap;left:1269.5px;transform:translateX(-100%);">2000</div>
<div style="position:absolute;top:770.48px;line-height:21px;font-size:15px;font-family:'DejaVu Sans',sans-serif;color:#1a1a1a;white-space:nowrap;left:2254.5px;">2000</div>
<div style="position:absolute;top:929.59px;line-height:21px;font-size:15px;font-family:'DejaVu Sans',sans-serif;color:#1a1a1a;white-space:nowrap;left:1269.5px;transform:translateX(-100%);">2500</div>
<div style="position:absolute;top:929.59px;line-height:21px;font-size:15px;font-family:'DejaVu Sans',sans-serif;color:#1a1a1a;white-space:nowrap;left:2254.5px;">2500</div>
<div style="position:absolute;top:1083.91px;line-height:21px;font-size:15px;font-family:'DejaVu Sans',sans-serif;color:#1a1a1a;white-space:nowrap;left:1269.5px;transform:translateX(-100%);">3000</div>
<div style="position:absolute;top:1083.91px;line-height:21px;font-size:15px;font-family:'DejaVu Sans',sans-serif;color:#1a1a1a;white-space:nowrap;left:2254.5px;">3000</div>
<div style="position:absolute;left:1287.5px;top:1101px;width:227.0px;height:16px;background:linear-gradient(#fefefe,#f1f1f1);"></div>
<div style="position:absolute;left:1303.5px;top:1101px;width:1px;height:16px;background:#cfcfcf;"></div>
<div style="position:absolute;left:1497.5px;top:1101px;width:1px;height:16px;background:#cfcfcf;"></div>
<svg style="position:absolute;left:1291.5px;top:1103px" width="8" height="13"><path d="M7 1 L1.5 6.5 L7 12Z" fill="#555"/></svg>
<svg style="position:absolute;left:1502.5px;top:1103px" width="8" height="13"><path d="M1 1 L6.5 6.5 L1 12Z" fill="#555"/></svg>
<div style="position:absolute;left:1540px;top:1101px;width:227.5px;height:16px;background:linear-gradient(#fefefe,#f1f1f1);"></div>
<div style="position:absolute;left:1556px;top:1101px;width:1px;height:16px;background:#cfcfcf;"></div>
<div style="position:absolute;left:1750.5px;top:1101px;width:1px;height:16px;background:#cfcfcf;"></div>
<svg style="position:absolute;left:1544px;top:1103px" width="8" height="13"><path d="M7 1 L1.5 6.5 L7 12Z" fill="#555"/></svg>
<svg style="position:absolute;left:1755.5px;top:1103px" width="8" height="13"><path d="M1 1 L6.5 6.5 L1 12Z" fill="#555"/></svg>
<div style="position:absolute;left:1775px;top:1101px;width:228px;height:16px;background:linear-gradient(#fefefe,#f1f1f1);"></div>
<div style="position:absolute;left:1791px;top:1101px;width:1px;height:16px;background:#cfcfcf;"></div>
<div style="position:absolute;left:1986px;top:1101px;width:1px;height:16px;background:#cfcfcf;"></div>
<svg style="position:absolute;left:1779px;top:1103px" width="8" height="13"><path d="M7 1 L1.5 6.5 L7 12Z" fill="#555"/></svg>
<svg style="position:absolute;left:1991px;top:1103px" width="8" height="13"><path d="M1 1 L6.5 6.5 L1 12Z" fill="#555"/></svg>
<div style="position:absolute;left:2010px;top:1101px;width:228px;height:16px;background:linear-gradient(#fefefe,#f1f1f1);"></div>
<div style="position:absolute;left:2026px;top:1101px;width:1px;height:16px;background:#cfcfcf;"></div>
<div style="position:absolute;left:2221px;top:1101px;width:1px;height:16px;background:#cfcfcf;"></div>
<svg style="position:absolute;left:2014px;top:1103px" width="8" height="13"><path d="M7 1 L1.5 6.5 L7 12Z" fill="#555"/></svg>
<svg style="position:absolute;left:2226px;top:1103px" width="8" height="13"><path d="M1 1 L6.5 6.5 L1 12Z" fill="#555"/></svg>
<div style="position:absolute;left:1517px;top:144px;width:17px;height:954px;background:linear-gradient(90deg,#f2f2f2,#fdfdfd 40%,#fafafa);"></div>
<div style="position:absolute;left:1517px;top:160px;width:17px;height:1px;background:#cfcfcf;"></div>
<div style="position:absolute;left:1517px;top:1082px;width:17px;height:1px;background:#cfcfcf;"></div>
<svg style="position:absolute;left:1519px;top:147px" width="13" height="8"><path d="M1 7 L6.5 1.5 L12 7Z" fill="#666"/></svg>
<svg style="position:absolute;left:1519px;top:1087px" width="13" height="8"><path d="M1 1 L6.5 6.5 L12 1Z" fill="#666"/></svg>
<div style="position:absolute;left:1191px;top:1150.5px;width:342.5px;height:56.5px;background:linear-gradient(90deg,#0000ff 0%,#0000ff 4.7%,#ffffff 49.4%,#ff0000 95.5%,#ff0000 100%);"></div>
<svg style="position:absolute;left:0;top:0" width="2346" height="1267" viewBox="0 0 2346 1267"><path d="M1207.0 1153.5V1205.5M1517.9 1153.5V1205.5" stroke="#e4e4e4" stroke-width="1.5"/><path d="M1191 1205.8H1295.9" stroke="#f00000" stroke-width="2.6"/><path d="M1295.9 1206H1317.9" stroke="#4040c0" stroke-width="1.2"/><path d="M1418.9 1206.3H1533.5" stroke="#f00000" stroke-width="1.4"/><path d="M1363.0 1153.5V1207" stroke="#181818" stroke-width="1.4"/><path d="M1314.2 1204.5 L1322.2 1203.5 L1330.2 1202.5 L1338.2 1201.5 L1344.2 1200 L1348.2 1197.5 L1350.7 1201 L1352.7 1204 L1354.7 1196 L1356.2 1175 L1357.7 1158 L1359.7 1153.5 L1361.0 1158 L1362.4 1180 L1363.7 1200 L1365.2 1206 L1368.2 1203 L1372.2 1199.5 L1376.2 1202 L1382.2 1203 L1392.2 1204 L1406.2 1205 L1420.2 1205.5" stroke="#e01818" stroke-width="1.2" fill="none"/><path d="M1191 1207.3H1533.5" stroke="#333" stroke-width="1.4"/><path d="M1192.2 1207v9M1209.0 1207v4.5M1225.8 1207v4.5M1242.6 1207v4.5M1259.4 1207v4.5M1276.2 1207v9M1292.9 1207v4.5M1309.7 1207v4.5M1326.5 1207v4.5M1343.3 1207v4.5M1360.1 1207v9M1376.9 1207v4.5M1393.7 1207v4.5M1410.5 1207v4.5M1427.3 1207v4.5M1444.0 1207v9M1460.8 1207v4.5M1477.6 1207v4.5M1494.4 1207v4.5M1511.2 1207v4.5M1528.0 1207v9" stroke="#333" stroke-width="1.4"/></svg>
<div style="position:absolute;left:2010px;top:1150.5px;width:325.5px;height:56.5px;background:linear-gradient(90deg,#0000ff 0%,#0000ff 4.5%,#ffffff 49.2%,#ff0000 95.3%,#ff0000 100%);"></div>
<svg style="position:absolute;left:0;top:0" width="2346" height="1267" viewBox="0 0 2346 1267"><path d="M2024.8 1153.5V1205.5M2320.2 1153.5V1205.5" stroke="#e4e4e4" stroke-width="1.5"/><path d="M2010 1205.8H2109.2" stroke="#f00000" stroke-width="2.6"/><path d="M2109.2 1206H2130.0" stroke="#4040c0" stroke-width="1.2"/><path d="M2225.9 1206.3H2335.5" stroke="#f00000" stroke-width="1.4"/><path d="M2172.7 1153.5V1207" stroke="#181818" stroke-width="1.4"/><path d="M2126.4 1204.5 L2134.0 1203.5 L2141.6 1202.5 L2149.2 1201.5 L2154.8 1200 L2158.6 1197.5 L2161.0 1201 L2162.9 1204 L2164.8 1196 L2166.2 1175 L2167.6 1158 L2169.5 1153.5 L2170.8 1158 L2172.1 1180 L2173.3 1200 L2174.7 1206 L2177.6 1203 L2181.4 1199.5 L2185.2 1202 L2190.8 1203 L2200.3 1204 L2213.6 1205 L2226.9 1205.5" stroke="#e01818" stroke-width="1.2" fill="none"/><path d="M2010 1207.3H2335.5" stroke="#333" stroke-width="1.4"/><path d="M2010.8 1207v9M2026.8 1207v4.5M2042.7 1207v4.5M2058.7 1207v4.5M2074.6 1207v4.5M2090.6 1207v9M2106.5 1207v4.5M2122.4 1207v4.5M2138.4 1207v4.5M2154.3 1207v4.5M2170.3 1207v9M2186.2 1207v4.5M2202.2 1207v4.5M2218.2 1207v4.5M2234.1 1207v4.5M2250.1 1207v9M2266.0 1207v4.5M2282.0 1207v4.5M2297.9 1207v4.5M2313.9 1207v4.5M2329.8 1207v9" stroke="#333" stroke-width="1.4"/></svg>
<div style="position:absolute;left:1540px;top:1150.5px;width:227.5px;height:56.5px;background:linear-gradient(90deg,#8000ff 0%,#8000ff 4.6%,#6a3cf0 15.5%,#4a80dc 29.1%,#20c0c8 40.9%,#00f8c8 50.0%,#90fce4 70.0%,#ffffff 95.4%,#ffffff 100%);"></div>
<svg style="position:absolute;left:0;top:0" width="2346" height="1267" viewBox="0 0 2346 1267"><path d="M1550.5 1153.5V1205.5" stroke="#e4e4e4" stroke-width="1.5"/><path d="M1653.8 1153.5V1207" stroke="#182828" stroke-width="1.3"/><path d="M1756.5 1153.5V1207" stroke="#401010" stroke-width="2"/><path d="M1540 1206H1560" stroke="#f00000" stroke-width="2.4"/><path d="M1560 1206.3H1767.5" stroke="#e02020" stroke-width="1.2"/><path d="M1745 1206 L1751 1202 L1754 1196 L1755.5 1153.5" stroke="#e01818" stroke-width="1.2" fill="none"/><path d="M1540 1207.3H1767.5" stroke="#333" stroke-width="1.4"/><path d="M1550.5 1207v9M1560.8 1207v4.5M1571.2 1207v4.5M1581.5 1207v4.5M1591.8 1207v4.5M1602.1 1207v6M1612.5 1207v4.5M1622.8 1207v4.5M1633.1 1207v4.5M1643.4 1207v4.5M1653.8 1207v9M1664.1 1207v4.5M1674.4 1207v4.5M1684.7 1207v4.5M1695.0 1207v4.5M1705.4 1207v6M1715.7 1207v4.5M1726.0 1207v4.5M1736.3 1207v4.5M1746.7 1207v4.5M1757.0 1207v9" stroke="#333" stroke-width="1.4"/></svg>
<div style="position:absolute;left:1775px;top:1150.5px;width:228px;height:56.5px;background:linear-gradient(90deg,#9b0000 0%,#9b0000 49.7%,#00a000 49.7%,#00a000 100%);"></div>
<svg style="position:absolute;left:0;top:0" width="2346" height="1267" viewBox="0 0 2346 1267"><path d="M1785 1153.5V1205.5" stroke="#c02020" stroke-width="1.5"/><path d="M1888.2 1153.5V1207" stroke="#e8d8d0" stroke-width="1.5"/><path d="M1991.0 1153.5V1207" stroke="#e0d0a0" stroke-width="1.3"/><path d="M1989.0 1170V1207" stroke="#e02020" stroke-width="1.6"/><rect x="1790" y="1186" width="48" height="17" fill="#fff" opacity=".22"/><rect x="1940" y="1186" width="48" height="17" fill="#fff" opacity=".22"/><path d="M1775 1207.3H2003" stroke="#333" stroke-width="1.4"/><path d="M1785.0 1207v9M1795.3 1207v4.5M1805.7 1207v4.5M1816.0 1207v4.5M1826.3 1207v4.5M1836.6 1207v6M1847.0 1207v4.5M1857.3 1207v4.5M1867.6 1207v4.5M1877.9 1207v4.5M1888.2 1207v9M1898.6 1207v4.5M1908.9 1207v4.5M1919.2 1207v4.5M1929.5 1207v4.5M1939.9 1207v6M1950.2 1207v4.5M1960.5 1207v4.5M1970.8 1207v4.5M1981.2 1207v4.5M1991.5 1207v9" stroke="#333" stroke-width="1.4"/></svg>
<div style="position:absolute;top:1124.41px;line-height:21px;font-size:15px;font-family:'DejaVu Sans',sans-serif;color:#1a1a1a;white-space:nowrap;left:1191.5px;">Read Out:</div>
<div style="position:absolute;top:1124.41px;line-height:21px;font-size:15px;font-family:'DejaVu Sans',sans-serif;color:#1a1a1a;white-space:nowrap;left:1540px;">Read Out:</div>
<div style="position:absolute;top:1124.41px;line-height:21px;font-size:15px;font-family:'DejaVu Sans',sans-serif;color:#1a1a1a;white-space:nowrap;left:1775px;">Read Out:</div>
<div style="position:absolute;top:1124.41px;line-height:21px;font-size:15px;font-family:'DejaVu Sans',sans-serif;color:#1a1a1a;white-space:nowrap;left:2010px;">Read Out:</div>
<div style="position:absolute;top:1215.61px;line-height:21px;font-size:15px;font-family:'DejaVu Sans',sans-serif;color:#1a1a1a;white-space:nowrap;left:1191.5px;">-2</div>
<div style="position:absolute;top:1215.61px;line-height:21px;font-size:15px;font-family:'DejaVu Sans',sans-serif;color:#1a1a1a;white-space:nowrap;left:1359.7px;transform:translateX(-50%);">0</div>
<div style="position:absolute;top:1215.61px;line-height:21px;font-size:15px;font-family:'DejaVu Sans',sans-serif;color:#1a1a1a;white-space:nowrap;left:1527.2px;transform:translateX(-50%);">2</div>
<div style="position:absolute;top:1215.61px;line-height:21px;font-size:15px;font-family:'DejaVu Sans',sans-serif;color:#1a1a1a;white-space:nowrap;left:1550px;transform:translateX(-50%);">0</div>
<div style="position:absolute;top:1215.61px;line-height:21px;font-size:15px;font-family:'DejaVu Sans',sans-serif;color:#1a1a1a;white-space:nowrap;left:1653.7px;transform:translateX(-50%);">0.5</div>
<div style="position:absolute;top:1215.61px;line-height:21px;font-size:15px;font-family:'DejaVu Sans',sans-serif;color:#1a1a1a;white-space:nowrap;left:1756.5px;transform:translateX(-50%);">1</div>
<div style="position:absolute;top:1215.61px;line-height:21px;font-size:15px;font-family:'DejaVu Sans',sans-serif;color:#1a1a1a;white-space:nowrap;left:1784.5px;transform:translateX(-50%);">0</div>
<div style="position:absolute;top:1215.61px;line-height:21px;font-size:15px;font-family:'DejaVu Sans',sans-serif;color:#1a1a1a;white-space:nowrap;left:1887.8px;transform:translateX(-50%);">0.5</div>
<div style="position:absolute;top:1215.61px;line-height:21px;font-size:15px;font-family:'DejaVu Sans',sans-serif;color:#1a1a1a;white-space:nowrap;left:1991px;transform:translateX(-50%);">1</div>
<div style="position:absolute;top:1215.61px;line-height:21px;font-size:15px;font-family:'DejaVu Sans',sans-serif;color:#1a1a1a;white-space:nowrap;left:2010px;">-2</div>
<div style="position:absolute;top:1215.61px;line-height:21px;font-size:15px;font-family:'DejaVu Sans',sans-serif;color:#1a1a1a;white-space:nowrap;left:2169.5px;transform:translateX(-50%);">0</div>
<div style="position:absolute;top:1215.61px;line-height:21px;font-size:15px;font-family:'DejaVu Sans',sans-serif;color:#1a1a1a;white-space:nowrap;left:2329px;transform:translateX(-50%);">2</div>
<div style="position:absolute;top:1185.61px;line-height:21px;font-size:15px;font-family:'DejaVu Sans',sans-serif;color:#d03838;white-space:nowrap;left:1727.5px;transform:translateX(-50%);">0.994</div>
<div style="position:absolute;top:1185.61px;line-height:21px;font-size:15px;font-family:'DejaVu Sans',sans-serif;color:#c02828;white-space:nowrap;left:1814px;transform:translateX(-50%);">0.000</div>
<div style="position:absolute;top:1185.61px;line-height:21px;font-size:15px;font-family:'DejaVu Sans',sans-serif;color:#c83018;white-space:nowrap;left:1964px;transform:translateX(-50%);">0.996</div>
<div style="position:absolute;left:2134.5px;top:1233.5px;width:97.5px;height:27.5px;border:1px solid #b4b4b4;border-radius:3px;box-sizing:border-box;background:linear-gradient(#fcfcfc,#ececec);"></div>
<div style="position:absolute;left:2233.5px;top:1233.5px;width:104.5px;height:27.5px;border:1px solid #b4b4b4;border-radius:3px;box-sizing:border-box;background:linear-gradient(#fcfcfc,#ececec);"></div>
<svg style="position:absolute;left:2146px;top:1238px" width="20" height="20" viewBox="0 0 20 20"><path d="M4.5 3.5 L15.5 16.5 M15 3 L5 17" stroke="#ee2a6a" stroke-width="5" stroke-linecap="round"/></svg>
<svg style="position:absolute;left:2239px;top:1238px" width="20" height="20" viewBox="0 0 20 20"><circle cx="10" cy="10" r="5.2" fill="none" stroke="#22a0f0" stroke-width="3.6"/><g stroke="#22a0f0" stroke-width="3.2"><path d="M10 1v4M10 15v4M1 10h4M15 10h4M3.6 3.6l2.8 2.8M13.6 13.6l2.8 2.8M16.4 3.6l-2.8 2.8M6.4 13.6l-2.8 2.8"/></g><path d="M4 17 L10 10" stroke="#9ad0ff" stroke-width="1.5"/></svg>
<div style="position:absolute;top:1238.11px;line-height:21px;font-size:15px;font-family:'DejaVu Sans',sans-serif;color:#1a1a1a;white-space:nowrap;left:2169px;">Cancel</div>
<div style="position:absolute;top:1238.11px;line-height:21px;font-size:15px;font-family:'DejaVu Sans',sans-serif;color:#1a1a1a;white-space:nowrap;left:2261.5px;">Calculate</div>
<div style="position:absolute;left:36px;top:750.8px;width:761px;height:329.20000000000005px;box-sizing:border-box;border:4.7px solid rgba(255,255,255,.88);border-radius:26px;background:linear-gradient(90deg,rgba(8,158,158,.88),rgba(30,44,82,.88)) padding-box;"></div>
<div style="position:absolute;top:770.11px;line-height:42px;font-size:29.7px;font-family:'Liberation Sans',sans-serif;color:#fff;white-space:nowrap;left:54.4px;letter-spacing:0.198px;">Points <b>inside</b> the polygon are given a mask value of <b>1</b></div>
<div style="position:absolute;top:812.11px;line-height:42px;font-size:29.7px;font-family:'Liberation Sans',sans-serif;color:#fff;white-space:nowrap;left:54.4px;letter-spacing:-0.443px;">(green)</div>
<div style="position:absolute;top:894.61px;line-height:42px;font-size:29.7px;font-family:'Liberation Sans',sans-serif;color:#fff;white-space:nowrap;left:54.4px;letter-spacing:-0.187px;">Points <b>outside</b> the polygon have a value of 0 (red).</div>
<div style="position:absolute;top:935.81px;line-height:42px;font-size:29.7px;font-family:'Liberation Sans',sans-serif;color:#fff;white-space:nowrap;left:54.4px;letter-spacing:0.515px;">These points are <b>removed</b> from the 1st Input volume</div>
<div style="position:absolute;top:976.91px;line-height:42px;font-size:29.7px;font-family:'Liberation Sans',sans-serif;color:#fff;white-space:nowrap;left:54.4px;letter-spacing:0.085px;">(Timeshift) and automatically <b>interpolated</b></div>
<div style="position:absolute;left:467.5px;top:337.5px;width:303.5px;height:94.5px;box-sizing:border-box;border:4.5px solid rgba(255,255,255,.88);border-radius:25px;background:linear-gradient(90deg,rgba(8,158,158,.88),rgba(30,44,82,.88)) padding-box;"></div>
<div style="position:absolute;top:363.21px;line-height:42px;font-size:29.7px;font-family:'Liberation Sans',sans-serif;color:#fff;white-space:nowrap;left:525.3px;letter-spacing:0.086px;">Mask polygon</div>
<div style="position:absolute;left:1283.5px;top:19.5px;width:240.5px;height:64.9px;box-sizing:border-box;border:4.8px solid rgba(255,255,255,.88);border-radius:33px;background:linear-gradient(90deg,rgba(8,158,158,.88),rgba(30,44,82,.88)) padding-box;"></div>
<div style="position:absolute;top:31.35px;line-height:41px;font-size:29.3px;font-family:'Liberation Sans',sans-serif;color:#fff;white-space:nowrap;left:1404.1097916666668px;transform:translateX(-50%);letter-spacing:0.720px;">Timeshift</div>
<div style="position:absolute;left:1526.5px;top:19.5px;width:240.0px;height:64.9px;box-sizing:border-box;border:4.8px solid rgba(255,255,255,.88);border-radius:33px;background:linear-gradient(90deg,rgba(8,158,158,.88),rgba(30,44,82,.88)) padding-box;"></div>
<div style="position:absolute;top:31.35px;line-height:41px;font-size:29.3px;font-family:'Liberation Sans',sans-serif;color:#fff;white-space:nowrap;left:1646.8582421875px;transform:translateX(-50%);letter-spacing:0.716px;">Correlation</div>
<div style="position:absolute;left:1768.5px;top:19.5px;width:239.0px;height:64.9px;box-sizing:border-box;border:4.8px solid rgba(255,255,255,.88);border-radius:33px;background:linear-gradient(90deg,rgba(8,158,158,.88),rgba(30,44,82,.88)) padding-box;"></div>
<div style="position:absolute;top:31.35px;line-height:41px;font-size:29.3px;font-family:'Liberation Sans',sans-serif;color:#fff;white-space:nowrap;left:1888.48125px;transform:translateX(-50%);letter-spacing:0.962px;">Mask</div>
<div style="position:absolute;left:2011px;top:19.5px;width:240px;height:64.9px;box-sizing:border-box;border:4.8px solid rgba(255,255,255,.88);border-radius:33px;background:linear-gradient(90deg,rgba(8,158,158,.88),rgba(30,44,82,.88)) padding-box;"></div>
<div style="position:absolute;top:31.35px;line-height:41px;font-size:29.3px;font-family:'Liberation Sans',sans-serif;color:#fff;white-space:nowrap;left:2131.4031184895834px;transform:translateX(-50%);letter-spacing:0.806px;">Output</div>
</div></body></html>
